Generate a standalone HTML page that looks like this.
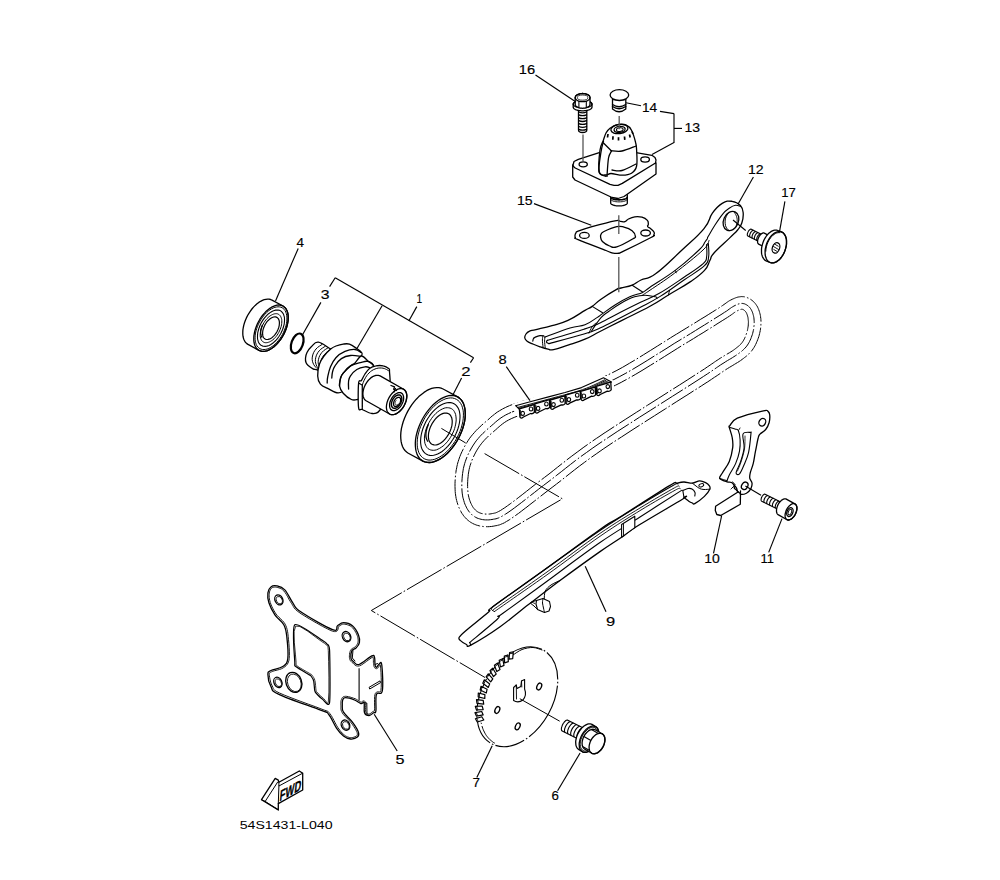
<!DOCTYPE html>
<html><head><meta charset="utf-8"><title>Camshaft &amp; chain</title>
<style>
html,body{margin:0;padding:0;background:#fff;}
svg{display:block;}
text{font-family:"Liberation Sans",sans-serif;fill:#000;}
</style></head><body>
<svg width="1000" height="880" viewBox="0 0 1000 880">
<rect width="1000" height="880" fill="#fff"/>
<polygon points="509.2,405.8 506,407.2 505.7,407.4 502.8,408.8 502.5,409 499.9,410.5 499.6,410.7 497.3,412.1 497,412.3 495,413.8 494.8,414 492.9,415.5 492.7,415.6 490.9,417.1 490.8,417.2 489.1,418.8 489.1,418.8 487.4,420.3 485.6,421.8 483.7,423.4 483.6,423.5 481.8,425.1 481.7,425.2 480,426.8 479.9,426.9 478.2,428.5 478,428.6 476.4,430.3 476.3,430.4 474.7,432.1 474.6,432.3 473.1,434 472.9,434.2 471.4,436 471.3,436.1 469.9,438 469.7,438.2 468.4,440.1 468.3,440.3 467,442.3 466.9,442.5 465.7,444.5 465.6,444.7 464.4,446.8 464.3,447 463.2,449.2 463.1,449.4 462,451.6 461.9,451.8 460.9,454 460.8,454.2 459.9,456.5 459.8,456.7 459,459 458.9,459.3 458.2,461.6 458.1,461.8 457.4,464.2 457.4,464.5 456.8,466.9 456.8,467.2 456.3,469.7 456.2,469.9 455.9,472.5 455.8,472.7 455.5,475.4 455.5,475.6 455.3,478.2 455.3,478.4 455.1,481 455.1,481.2 455,483.7 455,483.9 455,486.4 455,486.6 455.1,489 455.1,489.2 455.2,491.4 455.2,491.6 455.4,493.7 455.5,494 455.7,496 455.8,496.3 456.1,498.3 456.2,498.6 456.6,500.4 456.7,500.7 457.2,502.5 457.3,502.8 457.8,504.5 457.9,504.8 458.5,506.4 458.6,506.7 459.3,508.3 459.4,508.5 460.1,510 460.3,510.3 461,511.7 461.1,512 461.9,513.3 462.1,513.6 463,514.8 463.2,515.2 464.1,516.3 464.3,516.6 465.3,517.7 465.6,518 466.5,519 466.9,519.3 467.9,520.2 468.2,520.5 469.3,521.4 469.7,521.6 470.8,522.4 471.2,522.6 472.4,523.3 472.8,523.5 474,524.1 474.5,524.3 475.8,524.8 476.2,525 477.6,525.4 478,525.5 479.5,525.9 479.9,526 481.3,526.3 481.7,526.3 483.3,526.5 483.6,526.6 485.2,526.7 485.6,526.7 487.1,526.7 487.5,526.7 489.1,526.7 489.5,526.6 491,526.5 491.4,526.5 493,526.2 493.2,526.2 494.6,526 494.6,525.9 495.9,525.7 496.1,525.7 497.4,525.4 497.7,525.3 498.9,525 499.4,524.9 500.7,524.4 501.1,524.2 502.5,523.6 502.9,523.5 504.5,522.7 504.8,522.5 506.6,521.4 506.8,521.3 509,520 509.2,519.9 511.7,518.2 511.9,518.1 514.8,516 515,515.9 518.3,513.5 518.4,513.5 521.9,510.8 522,510.7 525.8,507.8 525.9,507.8 529.9,504.6 529.9,504.6 534.2,501.3 538.5,497.9 543,494.4 547.5,490.9 552.1,487.4 552.1,487.4 556.6,484 556.7,483.9 561.1,480.5 561.1,480.5 565.5,477 569.9,473.5 574.5,469.9 579.4,466.1 584.7,462.2 590.4,458 596.8,453.5 603.8,448.6 612,443.1 621.6,436.9 632,430.1 643.1,423 654.4,415.8 665.6,408.7 676.2,401.9 686,395.7 686.1,395.7 694.6,390.2 694.7,390.2 701.7,385.7 701.7,385.7 707.1,382.2 707.2,382.2 711.4,379.4 711.4,379.4 714.6,377.2 714.7,377.2 717.1,375.6 717.2,375.5 719,374.3 719,374.3 720.4,373.3 720.4,373.3 721.6,372.5 722.7,371.7 724,370.8 725.7,369.7 727.6,368.5 729.4,367.4 731.1,366.4 732.8,365.4 734.4,364.4 734.4,364.4 735.9,363.5 736,363.4 737.5,362.5 737.6,362.5 739,361.6 739.1,361.5 740.5,360.6 740.7,360.5 742,359.5 742.1,359.4 743.3,358.5 743.4,358.5 744.5,357.6 744.6,357.5 745.7,356.7 745.8,356.6 746.8,355.8 747,355.6 747.9,354.8 748.1,354.6 749,353.8 749.2,353.6 750,352.7 750.3,352.5 751.1,351.5 751.3,351.3 752.1,350.3 752.3,350 753,349 753.2,348.7 754,347.5 754.1,347.3 754.8,346.1 755,345.8 755.6,344.5 755.7,344.3 756.4,343 756.4,342.8 757,341.4 757.1,341.2 757.6,339.9 757.7,339.7 758.2,338.3 758.3,338.1 758.7,336.8 758.8,336.6 759.2,335.2 759.2,335.1 759.6,333.7 759.6,333.5 759.9,332.2 760,332 760.2,330.7 760.3,330.4 760.5,329.1 760.5,328.9 760.7,327.5 760.7,327.3 760.8,326 760.9,325.7 760.9,324.4 760.9,324.2 761,322.9 761,322.6 761,321.4 761,321.1 760.9,319.9 760.9,319.6 760.8,318.4 760.7,318.1 760.6,317 760.6,316.7 760.4,315.5 760.3,315.2 760.1,314.1 760,313.8 759.7,312.7 759.6,312.4 759.3,311.3 759.2,311 758.8,309.9 758.7,309.6 758.3,308.6 758.1,308.2 757.7,307.3 757.5,306.9 757,306 756.7,305.6 756.2,304.8 755.9,304.4 755.3,303.6 755,303.2 754.4,302.5 754,302.1 753.3,301.5 753,301.2 752.2,300.5 751.9,300.2 751.1,299.7 750.7,299.4 749.9,298.9 749.4,298.7 748.6,298.2 748.1,298 747.3,297.7 746.7,297.4 745.9,297.2 745.2,297 744.4,296.8 743.6,296.7 742.8,296.7 742.1,296.6 741.3,296.6 740.6,296.7 739.8,296.8 739.2,296.9 738.3,297 737.8,297.1 737,297.4 736.6,297.5 735.7,297.8 735.4,297.9 734.5,298.3 734.2,298.4 733.3,298.8 733.1,298.9 732.1,299.3 732,299.4 731,299.9 730.8,300 729.9,300.5 729.6,300.6 728.8,301.1 728.5,301.3 727.8,301.8 727.6,301.9 726.9,302.4 726.8,302.5 726,303.1 725.1,303.7 724,304.5 722.6,305.5 720.7,306.7 718.4,308.3 715.5,310.1 712.3,312.1 708.8,314.3 705,316.7 700.8,319.2 696.5,321.9 691.8,324.8 686.9,327.8 681.8,330.9 676.5,334.2 676.4,334.2 670.7,337.7 670.6,337.8 664.4,341.7 664.4,341.7 657.7,345.9 650.7,350.3 643.6,354.7 636.5,359.1 629.4,363.3 622.6,367.3 616.1,370.8 610,373.9 604.4,376.5 598.9,378.7 593.6,380.7 588.4,382.5 583.3,384.1 578.3,385.6 573.2,387 568.2,388.5 568.2,388.5 563.1,389.9 563,390 558,391.5 553,393 547.8,394.5 542.7,395.9 537.5,397.3 532.3,398.6 532.3,398.6 527.3,400 527.3,400 522.5,401.3 522.4,401.3 517.9,402.7 517.7,402.7 513.6,404.1 513.3,404.2 509.6,405.6 509.2,405.8" fill="none" stroke="#000" stroke-width="1" stroke-dasharray="26 2.2 1.6 2.2"/>
<polygon points="512,412 515.7,410.6 519.9,409.2 524.3,407.9 529.1,406.5 534.1,405.2 539.2,403.8 544.4,402.5 549.7,401 554.9,399.6 560,398 565,396.5 570.1,395 575.1,393.6 580.2,392.1 585.3,390.6 590.6,389 595.9,387.1 601.4,385.1 607.1,382.7 613,380 619.2,376.8 625.9,373.2 632.9,369.2 640,364.9 647.2,360.5 654.3,356 661.3,351.7 668,347.5 674.2,343.5 680,340 685.3,336.8 690.5,333.6 695.4,330.6 700,327.7 704.4,325 708.6,322.4 712.4,320 715.9,317.8 719.1,315.8 722,314 724.4,312.4 726.4,311.2 727.9,310.1 729.1,309.2 730.1,308.5 730.9,307.9 731.6,307.4 732.3,307 733.1,306.5 734,306 735,305.5 736,305 737,304.6 737.9,304.2 738.8,303.9 739.7,303.7 740.5,303.5 741.3,303.4 742.2,303.4 743,303.5 743.8,303.7 744.7,303.9 745.5,304.3 746.3,304.7 747.1,305.2 747.9,305.7 748.6,306.4 749.3,307 749.9,307.7 750.5,308.5 751,309.3 751.5,310.2 752,311.2 752.4,312.2 752.8,313.2 753.1,314.4 753.4,315.5 753.7,316.7 753.9,317.8 754,319 754.1,320.2 754.2,321.4 754.2,322.7 754.1,324 754.1,325.3 753.9,326.7 753.8,328 753.6,329.4 753.3,330.7 753,332 752.7,333.3 752.3,334.7 751.8,336 751.3,337.4 750.8,338.8 750.2,340.1 749.6,341.4 748.9,342.7 748.2,343.9 747.5,345 746.7,346.1 746,347 745.1,348 744.3,348.8 743.4,349.7 742.5,350.5 741.5,351.4 740.4,352.2 739.2,353.1 738,354 736.7,354.9 735.3,355.8 733.9,356.7 732.5,357.6 730.9,358.6 729.3,359.5 727.6,360.5 725.8,361.6 724,362.8 722,364 720.3,365.1 718.9,366.1 717.7,366.9 716.5,367.7 715.1,368.7 713.3,369.9 710.9,371.6 707.7,373.7 703.4,376.5 698,380 691,384.5 682.4,390 672.6,396.2 661.9,403 650.8,410.1 639.4,417.3 628.4,424.4 617.8,431.2 608.3,437.5 600,443 592.9,447.9 586.5,452.5 580.6,456.7 575.3,460.7 570.4,464.5 565.7,468.2 561.3,471.7 556.9,475.1 552.5,478.6 548,482 543.4,485.5 538.8,489 534.4,492.5 530,495.9 525.8,499.2 521.7,502.4 517.9,505.3 514.3,508 511,510.4 508,512.5 505.4,514.2 503.2,515.5 501.4,516.6 499.8,517.4 498.4,518 497.2,518.4 496,518.8 494.8,519 493.5,519.2 492,519.5 490.4,519.7 488.9,519.9 487.3,519.9 485.7,519.9 484.1,519.8 482.6,519.6 481.1,519.3 479.7,518.9 478.3,518.5 477,518 475.8,517.4 474.6,516.7 473.5,516 472.4,515.2 471.4,514.2 470.4,513.3 469.5,512.2 468.6,511 467.8,509.8 467,508.5 466.3,507.1 465.6,505.6 464.9,504.1 464.3,502.4 463.8,500.7 463.3,498.9 462.8,497.1 462.5,495.1 462.2,493.1 462,491 461.9,488.8 461.8,486.4 461.8,484 461.9,481.4 462.1,478.8 462.3,476.1 462.6,473.5 463,470.9 463.4,468.4 464,466 464.6,463.7 465.4,461.3 466.2,459 467.1,456.7 468.1,454.5 469.2,452.3 470.3,450.1 471.5,448 472.7,446 474,444 475.3,442.1 476.7,440.2 478.2,438.5 479.7,436.7 481.2,435.1 482.9,433.4 484.6,431.8 486.3,430.2 488.1,428.6 490,427 491.8,425.4 493.6,423.9 495.3,422.3 497.1,420.8 499,419.3 501,417.8 503.3,416.4 505.8,414.9 508.7,413.5 512,412" fill="none" stroke="#000" stroke-width="1" stroke-dasharray="26 2.2 1.6 2.2"/>
<polygon points="514.2,417.4 511.2,418.7 508.6,420 506.3,421.3 504.3,422.6 502.5,423.9 500.8,425.3 499.1,426.7 497.4,428.2 495.7,429.8 495.6,429.8 493.8,431.4 493.8,431.4 491.9,433 490.2,434.5 488.5,436 486.9,437.6 485.4,439.1 484,440.6 482.6,442.2 481.3,443.8 480,445.5 478.8,447.2 477.6,449.1 476.5,450.9 475.4,452.9 474.4,454.9 473.4,456.9 472.5,459 471.6,461.1 470.9,463.2 470.2,465.3 469.6,467.4 469.1,469.6 468.7,471.9 468.3,474.3 468.1,476.7 467.8,479.2 467.7,481.7 467.6,484.1 467.6,486.4 467.7,488.6 467.8,490.6 468,492.4 468.2,494.2 468.5,495.9 468.9,497.5 469.3,499.1 469.8,500.5 470.3,501.9 470.9,503.3 471.5,504.5 472.1,505.7 472.7,506.7 473.3,507.7 474,508.5 474.7,509.3 475.4,510 476.1,510.7 476.9,511.3 477.6,511.8 478.5,512.3 479.3,512.7 480.2,513 481.2,513.4 482.3,513.6 483.5,513.9 484.7,514 486,514.1 487.2,514.1 488.5,514.1 489.8,514 491.1,513.8 492.5,513.5 493.7,513.3 494.6,513.1 495.5,512.9 496.3,512.6 497.4,512.1 498.6,511.5 500.3,510.6 502.3,509.3 504.8,507.7 507.6,505.7 510.8,503.4 514.4,500.7 518.2,497.8 522.2,494.7 526.4,491.4 530.8,487.9 530.8,487.9 535.3,484.4 535.3,484.4 539.9,480.9 539.9,480.9 544.5,477.4 549,474 553.3,470.6 557.7,467.1 562.1,463.6 562.2,463.6 566.8,460 566.8,459.9 571.8,456.1 571.8,456.1 577.2,452.1 577.2,452.1 583,447.8 583.1,447.7 589.5,443.2 589.6,443.1 596.7,438.2 596.8,438.2 605,432.6 605.1,432.6 614.7,426.3 614.7,426.3 625.2,419.5 625.2,419.5 636.3,412.4 636.3,412.4 647.6,405.2 647.6,405.2 658.8,398.1 669.5,391.3 679.3,385.1 687.9,379.6 694.9,375.1 700.3,371.6 704.5,368.9 707.7,366.7 710.1,365.1 711.8,363.9 713.2,363 714.4,362.1 714.4,362.1 715.6,361.3 715.7,361.3 717,360.3 717.1,360.3 718.8,359.2 718.9,359.1 720.8,357.9 720.9,357.8 722.8,356.7 722.8,356.6 724.6,355.6 724.6,355.5 726.3,354.5 726.3,354.5 727.9,353.6 729.5,352.7 730.9,351.8 732.2,351 733.4,350.2 734.6,349.3 735.7,348.5 736.8,347.6 737.8,346.8 738.7,346.1 739.5,345.4 740.2,344.7 740.9,344 741.5,343.3 742.1,342.6 742.7,341.7 743.3,340.8 743.8,339.9 744.4,338.8 744.9,337.7 745.4,336.5 745.9,335.3 746.3,334.1 746.7,332.9 747.1,331.8 747.4,330.6 747.6,329.5 747.8,328.4 748,327.2 748.2,326.1 748.3,324.9 748.3,323.8 748.4,322.7 748.4,321.6 748.3,320.6 748.2,319.6 748.1,318.7 748,317.7 747.8,316.8 747.5,315.9 747.3,315.1 747,314.3 746.7,313.5 746.4,312.9 746.1,312.3 745.8,311.9 745.4,311.4 745.1,311 744.7,310.7 744.3,310.3 743.9,310 743.4,309.7 743,309.5 742.7,309.4 742.4,309.3 742.1,309.2 741.9,309.2 741.7,309.2 741.4,309.3 741,309.3 740.5,309.5 739.9,309.7 739.2,310 738.4,310.3 737.5,310.7 736.6,311.2 735.9,311.6 735.4,311.9 734.9,312.2 734.3,312.6 733.5,313.2 733.5,313.2 732.6,313.9 732.5,314 731.3,314.8 731.2,314.9 729.7,315.9 729.6,316 727.6,317.3 727.6,317.3 725.1,318.9 725.1,318.9 722.2,320.7 719,322.7 719,322.7 715.5,324.9 715.5,325 711.6,327.3 711.6,327.4 707.5,329.9 707.5,329.9 703.1,332.7 703.1,332.7 698.4,335.5 698.4,335.5 693.5,338.6 693.5,338.6 688.4,341.7 688.4,341.7 683,344.9 677.3,348.5 671.1,352.4 664.4,356.6 657.4,361 657.4,361 650.3,365.4 650.2,365.4 643,369.9 643,369.9 635.8,374.2 635.8,374.2 628.8,378.2 628.7,378.3 622,381.9 621.9,382 615.6,385.2 615.4,385.3 609.5,388 609.3,388.1 603.6,390.4 603.5,390.5 598,392.6 597.8,392.6 592.4,394.5 592.3,394.5 587.1,396.2 587,396.2 581.8,397.7 581.8,397.7 576.7,399.2 576.7,399.2 571.6,400.6 566.7,402 561.7,403.5 561.7,403.5 556.6,405.1 556.5,405.1 551.2,406.6 551.2,406.6 545.9,408.1 545.9,408.1 540.7,409.4 540.7,409.4 535.5,410.8 530.6,412.1 526,413.4 521.6,414.7 517.7,416 514.2,417.4" fill="none" stroke="#000" stroke-width="1" stroke-dasharray="26 2.2 1.6 2.2"/>
<polyline points="484.6,453.6 562.4,498.8 371.3,610.5 485,677.5" fill="none" stroke="#000" stroke-width="1" stroke-dasharray="40 2.2 1.6 2.2"/>
<path d="M529.6,331.2 C531.9,330.2 530.8,330.9 536,329.6 C541.2,328.3 544.5,327.7 552,325.6 C559.5,323.5 560.3,323.9 568,320.4 C575.7,316.9 579.4,313.7 585,310.4 C590.6,307.1 588.5,309 592.2,306.4 C595.9,303.8 595.4,303.1 601,299.2 C606.6,295.3 611.5,292.2 616.2,289.6 C620.9,287 617.3,289 621,288 C624.7,287 627.5,287.1 632.2,285.2 C636.9,283.3 635.5,282.7 641,280 C646.5,277.3 646,280.8 655.6,273.8 C665.2,266.8 670.7,260.5 682,250 C693.3,239.5 696.9,237.2 704,228.6 C711.1,220 708.2,219.1 712.4,213.2 C716.6,207.3 717.6,206.2 722.2,203.4 C726.8,200.6 727.8,200.8 732,201.3 C736.2,201.8 737.8,202.7 740.4,205.5 C743,208.3 742.9,209.1 743.2,213.2 C743.5,217.3 743.1,219.1 741.8,223 C740.5,226.9 740.4,226.6 737.6,230 C734.8,233.4 735.5,232.2 730,237.6 C724.5,243 718.7,247.7 714,253 C709.3,258.3 712.2,256.1 710,260.2 C707.8,264.3 709,265.5 704.5,270.4 C700,275.3 699.3,275.7 690.9,281.4 C682.5,287.1 677.9,289.2 668.4,295 C658.9,300.8 660.8,300.4 650,306.3 C639.2,312.2 633.7,314.4 622,320.3 C610.3,326.2 608.6,327.1 600,331.5 C591.4,335.9 592.5,336 585,339.2 C577.5,342.4 575.3,342.8 568,345.2 C560.7,347.6 558.3,348.7 553.6,349.6 C548.9,350.5 551.2,349.9 548,349.2 C544.8,348.5 543.7,348.1 540,346.8 C536.3,345.5 535,344.9 532,343.6 C529,342.3 528.9,342.5 527.2,341.2 C525.5,339.9 525.1,339.7 524.8,338 C524.5,336.3 524.9,335.6 526,334 C527.1,332.4 527.3,332.2 529.6,331.2Z" fill="#fff" stroke="#000" stroke-width="1.3" stroke-linejoin="round"/>
<path d="M532.8,341.2 C532.9,340.7 533,339.3 533.5,338.5 C534,337.7 533.9,337.8 535.2,337.2 C536.5,336.6 538.2,335.8 540,335.6 C541.8,335.4 543.2,335.9 544,336" fill="none" stroke="#000" stroke-width="1.2" stroke-linejoin="round" stroke-linecap="round"/>
<path d="M543,335.8 C542.9,336.6 542.4,337.8 542.4,340 C542.4,342.2 542.9,345.4 543,346.8" fill="none" stroke="#000" stroke-width="1.0" stroke-linejoin="round" stroke-linecap="round"/>
<path d="M545,336.5 C544.9,337.4 544.6,338.8 544.6,341 C544.6,343.2 545.1,346.2 545.2,347.5" fill="none" stroke="#000" stroke-width="1.0" stroke-linejoin="round" stroke-linecap="round"/>
<path d="M544.8,337.2 C549.8,335.4 562,330.5 570,328 C578,325.5 579.6,326.9 585,324.8 C590.4,322.7 593.5,319.8 597,317.6 C600.5,315.4 598.9,316.2 602.6,313.6 C606.3,311 610,308.2 615.4,304.8 C620.8,301.4 624.4,299.3 629.8,296.8 C635.2,294.3 638.6,294.3 642.6,292.4 C646.6,290.5 643.5,291.6 650,287.2 C656.5,282.8 665.4,277.8 675.2,270.4 C685,263 693,255.7 699,250 C705,244.3 703.3,244.3 705,242 C706.7,239.7 707,239.2 707.5,238.5" fill="none" stroke="#000" stroke-width="1.1" stroke-linejoin="round" stroke-linecap="round"/>
<path d="M642.6,295 C644.1,294 643.6,294.6 650,290.2 C656.4,285.8 663.9,281.2 674.5,273.2 C685.1,265.2 696.1,256.5 703,250 C709.9,243.5 707.8,242.4 709,240.5" fill="none" stroke="#000" stroke-width="1.0" stroke-linejoin="round" stroke-linecap="round"/>
<path d="M547.2,340.4 C554.6,338.2 573.4,332.7 584,329.2 C594.6,325.7 592.8,326.3 600,323 C607.2,319.7 612,316.6 620,312.5 C628,308.4 632.2,306.3 640,302.5 C647.8,298.7 650.1,298.6 658.9,293.6 C667.7,288.6 675.1,283.3 684,277.3 C692.9,271.3 698.7,267.7 703.2,263.6 C707.7,259.5 705.9,260.6 706.6,256.8 C707.3,253 706.6,247.2 706.6,244.8" fill="none" stroke="#000" stroke-width="1.1" stroke-linejoin="round" stroke-linecap="round"/>
<path d="M548.8,343.6 C555.8,341.7 573.8,337.1 584,334 C594.2,330.9 592.8,331.2 600,328 C607.2,324.8 612,322.1 620,318 C628,313.9 632,311.8 640,307.5 C648,303.2 651.4,301.9 660.2,296.4 C669,290.9 675.1,286.1 684,280 C692.9,273.9 699.6,270.3 704.5,265.7 C709.4,261.1 707.8,261.1 708.6,256.8 C709.4,252.5 708.4,246.6 708.4,244" fill="none" stroke="#000" stroke-width="1.1" stroke-linejoin="round" stroke-linecap="round"/>
<path d="M547.2,340.4 C547.1,340.8 546.2,341.6 546.5,342.2 C546.8,342.8 548.3,343.3 548.8,343.6" fill="none" stroke="#000" stroke-width="1.1" stroke-linejoin="round" stroke-linecap="round"/>
<path d="M706.6,244.8 C706.8,244.5 707.1,243.7 707.5,243.5 C707.9,243.3 708.2,243.9 708.4,244" fill="none" stroke="#000" stroke-width="1.0" stroke-linejoin="round" stroke-linecap="round"/>
<path d="M591.4,331.2 C593.3,328.5 597.5,321.6 601,317.6 C604.5,313.6 605,314.1 609,311.2 C613,308.3 615.9,306.1 621,303.2 C626.1,300.3 629.8,298.4 634.6,296.8 C639.4,295.2 640.8,295.2 645,295.2 C649.2,295.2 653,296.2 655.4,296.8 C657.8,297.4 656.7,298.1 657,298.4" fill="none" stroke="#000" stroke-width="1.1" stroke-linejoin="round" stroke-linecap="round"/>
<path d="M589,333.2 C589.6,332 590.6,329 592,327 C593.4,325 595.2,323.8 596,323" fill="none" stroke="#000" stroke-width="1.0" stroke-linejoin="round" stroke-linecap="round"/>
<path d="M592.2,306.4 C592.2,306.4 602.6,312.8 602.6,312.8" fill="none" stroke="#000" stroke-width="1.1" stroke-linejoin="round" stroke-linecap="round"/>
<path d="M632.2,285.2 C632.2,285.2 642.6,292 642.6,292" fill="none" stroke="#000" stroke-width="1.1" stroke-linejoin="round" stroke-linecap="round"/>
<path d="M675.2,270.4 C675.2,270.4 676.2,272.8 676.2,272.8" fill="none" stroke="#000" stroke-width="1.0" stroke-linejoin="round" stroke-linecap="round"/>
<path d="M668.4,295 C668.4,295 669.5,290.5 669.5,290.5" fill="none" stroke="#000" stroke-width="1.0" stroke-linejoin="round" stroke-linecap="round"/>
<ellipse cx="731" cy="221" rx="7.4" ry="10" transform="rotate(24 731 221)" fill="#fff" stroke="#000" stroke-width="1.3" />
<path d="M727.5,214 C727,215.2 725.5,217.4 725.2,220 C724.9,222.6 725.2,224.9 726,227 C726.8,229.1 728.4,229.8 729,230.5" fill="none" stroke="#000" stroke-width="1.0" stroke-linejoin="round" stroke-linecap="round"/>
<path d="M734.5,212.5 C735,213.6 736.6,215.5 737,218 C737.4,220.5 737.1,222.8 736.5,225 C735.9,227.2 734.5,228.2 734,229" fill="none" stroke="#000" stroke-width="0.9" stroke-linejoin="round" stroke-linecap="round"/>
<path d="M707.5,237.6 C709,235.1 711.9,229.8 715,225 C718.1,220.2 720.1,217.2 722.9,213.8 C725.7,210.4 726.7,209.9 729.2,208.2 C731.7,206.5 733.2,205.6 735.5,205.3 C737.8,205 739.5,206.3 740.5,206.5" fill="none" stroke="#000" stroke-width="1.1" stroke-linejoin="round" stroke-linecap="round"/>
<line x1="733" y1="220" x2="745.7" y2="230.5" stroke="#000" stroke-width="1.1" />
<polygon points="764.2,235.8 764.4,235.9 764.5,236 764.6,236.2 764.7,236.4 764.8,236.7 764.8,236.9 764.8,237.2 764.8,237.5 764.7,237.8 764.7,238.2 764.6,238.5 764.5,238.9 764.3,239.3 764.2,239.6 764,240 763.8,240.3 763.6,240.7 763.4,241 763.2,241.3 763,241.6 762.7,241.8 762.5,242 762.2,242.2 762,242.4 761.8,242.5 761.5,242.6 761.3,242.7 761.1,242.7 760.9,242.6 760.8,242.6 747.9,236 747.7,235.9 747.6,235.8 747.5,235.6 747.4,235.4 747.3,235.1 747.3,234.9 747.3,234.6 747.3,234.3 747.4,234 747.4,233.6 747.5,233.3 747.6,232.9 747.8,232.5 747.9,232.2 748.1,231.8 748.3,231.5 748.5,231.1 748.7,230.8 748.9,230.5 749.1,230.2 749.4,230 749.6,229.8 749.9,229.6 750.1,229.4 750.3,229.3 750.6,229.2 750.8,229.1 751,229.1 751.2,229.2 751.3,229.2" fill="#fff" stroke="#000" stroke-width="1.1" stroke-linejoin="round" />
<polyline points="750,237 749.8,236.7 749.7,236.2 749.6,235.7 749.7,235.1 749.9,234.4 750.1,233.7 750.4,233 750.8,232.4 751.2,231.8 751.7,231.3 752.1,230.8 752.6,230.5 753,230.4 753.4,230.3" fill="none" stroke="#000" stroke-width="1.1" stroke-linejoin="round" />
<polyline points="752.3,238.2 752.1,237.9 752,237.4 752,236.9 752.1,236.3 752.2,235.6 752.5,234.9 752.8,234.2 753.1,233.6 753.6,233 754,232.5 754.5,232 754.9,231.7 755.3,231.6 755.7,231.5" fill="none" stroke="#000" stroke-width="1.1" stroke-linejoin="round" />
<polyline points="754.7,239.4 754.5,239.1 754.4,238.6 754.3,238.1 754.4,237.5 754.6,236.8 754.8,236.1 755.1,235.4 755.5,234.8 755.9,234.2 756.3,233.7 756.8,233.2 757.3,232.9 757.7,232.8 758.1,232.7" fill="none" stroke="#000" stroke-width="1.1" stroke-linejoin="round" />
<polyline points="757,240.6 756.8,240.3 756.7,239.8 756.7,239.3 756.8,238.7 756.9,238 757.1,237.3 757.5,236.6 757.8,236 758.2,235.4 758.7,234.9 759.2,234.4 759.6,234.1 760,234 760.4,233.9" fill="none" stroke="#000" stroke-width="1.1" stroke-linejoin="round" />
<polyline points="759.4,241.8 759.2,241.5 759.1,241 759,240.5 759.1,239.9 759.3,239.2 759.5,238.5 759.8,237.8 760.2,237.2 760.6,236.6 761,236.1 761.5,235.6 761.9,235.3 762.4,235.2 762.8,235.1" fill="none" stroke="#000" stroke-width="1.1" stroke-linejoin="round" />
<polygon points="769.8,236 770.1,236.2 770.3,236.4 770.5,236.7 770.7,237 770.8,237.4 770.9,237.9 770.9,238.3 770.9,238.8 770.9,239.4 770.8,240 770.7,240.5 770.5,241.1 770.3,241.7 770,242.3 769.8,242.9 769.5,243.5 769.1,244 768.8,244.5 768.4,245 768,245.5 767.6,245.9 767.2,246.2 766.8,246.5 766.3,246.8 765.9,247 765.6,247.1 765.2,247.2 764.8,247.2 764.5,247.1 764.2,247 758.7,244.1 758.4,243.9 758.2,243.7 758,243.4 757.8,243.1 757.7,242.7 757.6,242.2 757.6,241.8 757.6,241.3 757.6,240.7 757.7,240.1 757.8,239.6 758,239 758.2,238.4 758.5,237.8 758.7,237.2 759,236.6 759.4,236.1 759.7,235.6 760.1,235.1 760.5,234.6 760.9,234.2 761.3,233.9 761.7,233.6 762.2,233.3 762.6,233.1 762.9,233 763.3,232.9 763.7,232.9 764,233 764.3,233.1" fill="#fff" stroke="#000" stroke-width="1.3" stroke-linejoin="round" />
<polygon points="781.4,231.9 782.3,232.3 783.2,232.9 783.9,233.7 784.6,234.6 785.2,235.6 785.7,236.8 786.1,238.1 786.4,239.4 786.5,240.9 786.5,242.4 786.5,244 786.3,245.6 785.9,247.3 785.5,248.9 785,250.5 784.4,252.1 783.6,253.7 782.8,255.1 781.9,256.5 781,257.8 780,258.9 778.9,259.9 777.8,260.8 776.7,261.6 775.6,262.1 774.4,262.6 773.3,262.8 772.3,262.9 771.2,262.8 770.2,262.5 766.6,261.1 765.7,260.7 764.8,260.1 764.1,259.3 763.4,258.4 762.8,257.4 762.3,256.2 761.9,254.9 761.6,253.6 761.5,252.1 761.5,250.6 761.5,249 761.7,247.4 762.1,245.7 762.5,244.1 763,242.5 763.6,240.9 764.4,239.3 765.2,237.9 766.1,236.5 767,235.2 768,234.1 769.1,233.1 770.2,232.2 771.3,231.4 772.4,230.9 773.6,230.4 774.7,230.2 775.7,230.1 776.8,230.2 777.8,230.5" fill="#fff" stroke="#000" stroke-width="1.3" stroke-linejoin="round" />
<polygon points="785,250.5 784.4,252.1 783.6,253.7 782.8,255.1 781.9,256.5 781,257.8 780,258.9 778.9,259.9 777.8,260.8 776.7,261.6 775.6,262.1 774.4,262.6 773.3,262.8 772.3,262.9 771.2,262.8 770.2,262.5 769.3,262.1 768.4,261.5 767.7,260.7 767,259.8 766.4,258.8 765.9,257.6 765.5,256.3 765.2,255 765.1,253.5 765.1,252 765.1,250.4 765.3,248.8 765.7,247.1 766.1,245.5 766.6,243.9 767.2,242.3 768,240.7 768.8,239.3 769.7,237.9 770.6,236.6 771.6,235.5 772.7,234.5 773.8,233.6 774.9,232.8 776,232.3 777.2,231.8 778.3,231.6 779.3,231.5 780.4,231.6 781.4,231.9 782.3,232.3 783.2,232.9 783.9,233.7 784.6,234.6 785.2,235.6 785.7,236.8 786.1,238.1 786.4,239.4 786.5,240.9 786.5,242.4 786.5,244 786.3,245.6 785.9,247.3 785.5,248.9 785,250.5" fill="none" stroke="#000" stroke-width="1.3" stroke-linejoin="round" />
<polyline points="765.8,251.6 765.9,249.9 766.1,248 766.6,246.2 767.1,244.4 767.8,242.6 768.6,240.9 769.6,239.3 770.6,237.8 771.7,236.5 772.9,235.3 774.1,234.4 775.4,233.6 776.6,233 777.9,232.7 779.1,232.6 780.2,232.7" fill="none" stroke="#000" stroke-width="1.0" stroke-linejoin="round" />
<ellipse cx="776" cy="247.9" rx="3.6" ry="5.4" transform="rotate(20 776 247.9)" fill="none" stroke="#000" stroke-width="1.3" />
<path d="M773.5,246.5 L778.5,249.5 M774.5,244 L778.2,246.2 M773.8,249.5 L777.2,251.5" fill="none" stroke="#000" stroke-width="0.9" stroke-linejoin="round" stroke-linecap="round" />
<path d="M575,235.2 C575.1,234.3 575.4,233.6 576,232.8 C576.6,232 574.9,232.4 578.1,231.2 C581.3,230 584.6,228.8 592,226.7 C599.4,224.6 609.3,221.9 615,220.8 C620.7,219.7 618.4,221.1 620.4,221.3 C622.4,221.5 623.3,222.2 624.9,221.7 C626.5,221.2 626.5,220 628.5,219 C630.5,218 632.1,217.2 634.8,216.8 C637.5,216.4 639.5,216.5 642,217.2 C644.5,217.9 646.1,219 647.4,220.4 C648.7,221.8 648.3,223.2 648.3,224.4 C648.3,225.6 647.1,225.6 647.6,226.5 C648.1,227.4 649.7,227.7 651,228.9 C652.3,230.1 653.7,231.2 654.2,232.5 C654.7,233.8 654.3,234.2 653.7,235.2 C653.1,236.2 657.1,234.3 651,237.5 C644.9,240.7 629.6,248.3 623.1,251.4 C616.6,254.5 620.6,252.8 618.6,253.2 C616.6,253.6 615.7,253.7 613.2,253.2 C610.7,252.7 613,253.2 606,250.5 C599,247.8 584.2,242.3 578.1,239.7 C572,237.1 576,238.4 575.4,237.5 C574.8,236.6 574.9,236.1 575,235.2Z" fill="#fff" stroke="#000" stroke-width="1.3"/>
<ellipse cx="584.4" cy="235.4" rx="4.8" ry="3" transform="rotate(0 584.4 235.4)" fill="none" stroke="#000" stroke-width="1.3" />
<ellipse cx="645.6" cy="233" rx="4.8" ry="3" transform="rotate(0 645.6 233)" fill="none" stroke="#000" stroke-width="1.3" />
<path d="M601,234.3 C601.7,233.2 600.8,233 604,231.5 C607.2,230 612.8,227.6 616.8,226.7 C620.8,225.8 620.9,226.3 624,227.1 C627.1,227.9 629.8,228.9 632.1,230.7 C634.4,232.5 635.1,234.5 635.3,236.1 C635.5,237.7 636.7,236.6 633,238.8 C629.3,241 621.5,245.5 616.8,246.9 C612.1,248.3 612.5,247.1 609.6,246 C606.7,244.9 604.2,243.3 602.4,241.5 C600.6,239.7 600.9,238.4 600.6,237 C600.3,235.6 600.3,235.4 601,234.3Z" fill="none" stroke="#000" stroke-width="1.3"/>
<line x1="618.8" y1="215.3" x2="618.8" y2="234" stroke="#555" stroke-width="1.3" />
<line x1="618.8" y1="257" x2="618.8" y2="292.3" stroke="#555" stroke-width="1.3" />
<polygon points="610.7,203 610.7,203.3 610.9,203.6 611.1,203.9 611.4,204.2 611.8,204.5 612.3,204.7 612.8,204.9 613.4,205.2 614.1,205.4 614.9,205.5 615.6,205.7 616.4,205.8 617.3,205.8 618.1,205.9 619,205.9 619.9,205.9 620.7,205.8 621.6,205.8 622.4,205.7 623.1,205.5 623.9,205.4 624.6,205.2 625.2,204.9 625.7,204.7 626.2,204.5 626.6,204.2 626.9,203.9 627.1,203.6 627.3,203.3 627.3,203 627.3,195 627.3,194.7 627.1,194.4 626.9,194.1 626.6,193.8 626.2,193.5 625.7,193.3 625.2,193.1 624.6,192.8 623.9,192.6 623.1,192.5 622.4,192.3 621.6,192.2 620.7,192.2 619.9,192.1 619,192.1 618.1,192.1 617.3,192.2 616.4,192.2 615.6,192.3 614.9,192.5 614.1,192.6 613.4,192.8 612.8,193.1 612.3,193.3 611.8,193.5 611.4,193.8 611.1,194.1 610.9,194.4 610.7,194.7 610.7,195" fill="#fff" stroke="#000" stroke-width="1.3" stroke-linejoin="round" />
<polyline points="610.7,197 610.9,197.6 611.3,198.1 612.1,198.6 613.1,199.1 614.4,199.4 615.8,199.7 617.4,199.8 619,199.9 620.6,199.8 622.2,199.7 623.6,199.4 624.9,199.1 625.9,198.6 626.7,198.1 627.1,197.6 627.3,197" fill="none" stroke="#000" stroke-width="1.6" stroke-linejoin="round" />
<polyline points="610.7,199 610.9,199.6 611.3,200.1 612.1,200.6 613.1,201.1 614.4,201.4 615.8,201.7 617.4,201.8 619,201.9 620.6,201.8 622.2,201.7 623.6,201.4 624.9,201.1 625.9,200.6 626.7,200.1 627.1,199.6 627.3,199" fill="none" stroke="#000" stroke-width="0.9" stroke-linejoin="round" />
<polygon points="572.7,165 572.7,177 575,180 612,197.5 618,198.5 624,196.5 656,174 656,163 655.5,163" fill="#fff" stroke="#000" stroke-width="1.3" stroke-linejoin="round" />
<polygon points="573,165 574,161.5 578.3,159.4 600.8,152.2 636,152.7 651.9,155.3 655,157.5 656,160 655.5,163 622.3,183.4 618,185.3 614,185.3 610,184.4 575.2,168 573.5,166.5" fill="#fff" stroke="#000" stroke-width="1.3" stroke-linejoin="round" />
<ellipse cx="583.2" cy="164.3" rx="4.1" ry="2.5" transform="rotate(0 583.2 164.3)" fill="none" stroke="#000" stroke-width="1.3" />
<ellipse cx="645.1" cy="159.5" rx="4.3" ry="2.6" transform="rotate(0 645.1 159.5)" fill="none" stroke="#000" stroke-width="1.3" />
<path d="M599.3,172 C598.3,167.8 599.3,155.3 600,150 C600.7,144.7 602.3,143.2 603.3,140.4 C604.3,137.6 604.9,135 606,133 C607.1,131 608,129.6 610,128.2 C612,126.8 615.5,125.1 618.2,124.6 C620.9,124.1 624.1,124.2 626.3,125.1 C628.5,126 630,127.3 631.5,130.2 C633,133.1 634.8,139.2 635.6,142.5 C636.5,145.8 636.4,146.1 636.6,150 C636.8,153.9 637.5,162.1 636.6,166 C635.8,169.9 633.9,171.7 631.5,173.2 C629.1,174.7 625.7,175.1 622.3,175.2 C618.9,175.2 613.7,173.5 611,173.5 C608.3,173.5 608,175.2 606,175 C604,174.8 600.3,176.2 599.3,172Z" fill="#fff" stroke="#000" stroke-width="1.3"/>
<path d="M611,150.7 C612.8,150.8 617.8,151.8 622,151 C626.2,150.2 633.7,146.8 636,146" fill="none" stroke="#000" stroke-width="1.3" stroke-linejoin="round" stroke-linecap="round" />
<path d="M612,170 C613.7,170.1 618,171.5 622,170.5 C626,169.5 633.7,165.1 636,164" fill="none" stroke="#000" stroke-width="1.3" stroke-linejoin="round" stroke-linecap="round" />
<path d="M603.5,141 C603.1,142.8 601.8,146.8 601,152 C600.2,157.2 598.2,167.9 599,172 C599.8,176.1 604.8,175.7 606,176.4" fill="none" stroke="#000" stroke-width="1.3" stroke-linejoin="round" stroke-linecap="round" />
<path d="M611.5,151 C611,152.2 609.2,153.8 608.5,158 C607.8,162.2 607.2,173.3 607,176.4" fill="none" stroke="#000" stroke-width="1.3" stroke-linejoin="round" stroke-linecap="round" />
<path d="M603.5,143 L611.5,151" fill="none" stroke="#000" stroke-width="1.3" stroke-linejoin="round" stroke-linecap="round" />
<ellipse cx="619.4" cy="129" rx="8.6" ry="4.6" transform="rotate(-8 619.4 129)" fill="none" stroke="#000" stroke-width="1.3" />
<ellipse cx="619.6" cy="129.4" rx="5.6" ry="3" transform="rotate(-8 619.6 129.4)" fill="none" stroke="#000" stroke-width="1.3" />
<ellipse cx="619.8" cy="129.6" rx="3.4" ry="1.8" transform="rotate(-8 619.8 129.6)" fill="none" stroke="#000" stroke-width="1.0" />
<line x1="608" y1="134" x2="607.5" y2="137.5" stroke="#000" stroke-width="1.7" />
<line x1="613" y1="136.3" x2="612.8" y2="139.8" stroke="#000" stroke-width="1.7" />
<line x1="618.5" y1="137.2" x2="618.5" y2="140.5" stroke="#000" stroke-width="1.7" />
<line x1="624.5" y1="136.5" x2="624.8" y2="139.8" stroke="#000" stroke-width="1.7" />
<line x1="629.5" y1="134.5" x2="630.2" y2="137.5" stroke="#000" stroke-width="1.7" />
<line x1="632" y1="131.5" x2="633" y2="134" stroke="#000" stroke-width="1.7" />
<line x1="619.2" y1="116.1" x2="619.2" y2="129.3" stroke="#555" stroke-width="1.3" />
<line x1="583" y1="134.5" x2="583" y2="161" stroke="#555" stroke-width="1.3" />
<path d="M578.5,108 L578.5,130 Q578.5,132.5 582.6,132.5 Q586.8,132.5 586.8,130 L586.8,108 Z" fill="#fff" stroke="#000" stroke-width="1.3"/>
<path d="M578.8,112 Q582.6,113.6 586.5,112" fill="none" stroke="#000" stroke-width="1.3" stroke-linejoin="round" stroke-linecap="round" />
<path d="M578.8,114.9 Q582.6,116.5 586.5,114.9" fill="none" stroke="#000" stroke-width="1.3" stroke-linejoin="round" stroke-linecap="round" />
<path d="M578.8,117.8 Q582.6,119.4 586.5,117.8" fill="none" stroke="#000" stroke-width="1.3" stroke-linejoin="round" stroke-linecap="round" />
<path d="M578.8,120.7 Q582.6,122.3 586.5,120.7" fill="none" stroke="#000" stroke-width="1.3" stroke-linejoin="round" stroke-linecap="round" />
<path d="M578.8,123.6 Q582.6,125.2 586.5,123.6" fill="none" stroke="#000" stroke-width="1.3" stroke-linejoin="round" stroke-linecap="round" />
<path d="M578.8,126.5 Q582.6,128.1 586.5,126.5" fill="none" stroke="#000" stroke-width="1.3" stroke-linejoin="round" stroke-linecap="round" />
<path d="M578.8,129.4 Q582.6,131 586.5,129.4" fill="none" stroke="#000" stroke-width="1.3" stroke-linejoin="round" stroke-linecap="round" />
<polygon points="573.2,104.2 573.3,103.8 573.4,103.5 573.7,103.1 574,102.7 574.5,102.4 575,102.1 575.6,101.8 576.3,101.5 577.1,101.3 577.9,101.1 578.8,100.9 579.7,100.8 580.6,100.7 581.6,100.6 582.6,100.6 583.6,100.6 584.6,100.7 585.5,100.8 586.4,100.9 587.3,101.1 588.1,101.3 588.9,101.5 589.6,101.8 590.2,102.1 590.7,102.4 591.2,102.7 591.5,103.1 591.8,103.5 591.9,103.8 592,104.2 592,107.2 591.9,107.6 591.8,107.9 591.5,108.3 591.2,108.7 590.7,109 590.2,109.3 589.6,109.6 588.9,109.9 588.1,110.1 587.3,110.3 586.4,110.5 585.5,110.6 584.6,110.7 583.6,110.8 582.6,110.8 581.6,110.8 580.6,110.7 579.7,110.6 578.8,110.5 577.9,110.3 577.1,110.1 576.3,109.9 575.6,109.6 575,109.3 574.5,109 574,108.7 573.7,108.3 573.4,107.9 573.3,107.6 573.2,107.2" fill="#fff" stroke="#000" stroke-width="1.3" stroke-linejoin="round" />
<polygon points="582.6,100.6 583.6,100.6 584.6,100.7 585.5,100.8 586.4,100.9 587.3,101.1 588.1,101.3 588.9,101.5 589.6,101.8 590.2,102.1 590.7,102.4 591.2,102.7 591.5,103.1 591.8,103.5 591.9,103.8 592,104.2 591.9,104.6 591.8,104.9 591.5,105.3 591.2,105.7 590.7,106 590.2,106.3 589.6,106.6 588.9,106.9 588.1,107.1 587.3,107.3 586.4,107.5 585.5,107.6 584.6,107.7 583.6,107.8 582.6,107.8 581.6,107.8 580.6,107.7 579.7,107.6 578.8,107.5 577.9,107.3 577.1,107.1 576.3,106.9 575.6,106.6 575,106.3 574.5,106 574,105.7 573.7,105.3 573.4,104.9 573.3,104.6 573.2,104.2 573.3,103.8 573.4,103.5 573.7,103.1 574,102.7 574.5,102.4 575,102.1 575.6,101.8 576.3,101.5 577.1,101.3 577.9,101.1 578.8,100.9 579.7,100.8 580.6,100.7 581.6,100.6 582.6,100.6" fill="none" stroke="#000" stroke-width="1.3" stroke-linejoin="round" />
<polygon points="575.2,97.6 575.2,97.2 575.4,96.8 575.6,96.3 575.8,95.9 576.2,95.6 576.6,95.2 577.1,94.9 577.6,94.6 578.3,94.3 578.9,94.1 579.6,93.9 580.3,93.7 581.1,93.6 581.8,93.6 582.6,93.5 583.4,93.6 584.1,93.6 584.9,93.7 585.6,93.9 586.3,94.1 586.9,94.3 587.6,94.6 588.1,94.9 588.6,95.2 589,95.6 589.4,95.9 589.6,96.3 589.8,96.8 590,97.2 590,97.6 590,104.2 590,104.6 589.8,105 589.6,105.5 589.4,105.9 589,106.2 588.6,106.6 588.1,106.9 587.6,107.2 586.9,107.5 586.3,107.7 585.6,107.9 584.9,108.1 584.1,108.2 583.4,108.2 582.6,108.3 581.8,108.2 581.1,108.2 580.3,108.1 579.6,107.9 578.9,107.7 578.3,107.5 577.6,107.2 577.1,106.9 576.6,106.6 576.2,106.2 575.8,105.9 575.6,105.5 575.4,105 575.2,104.6 575.2,104.2" fill="#fff" stroke="#000" stroke-width="1.3" stroke-linejoin="round" />
<polygon points="582.6,93.5 583.4,93.6 584.1,93.6 584.9,93.7 585.6,93.9 586.3,94.1 586.9,94.3 587.6,94.6 588.1,94.9 588.6,95.2 589,95.6 589.4,95.9 589.6,96.3 589.8,96.8 590,97.2 590,97.6 590,98 589.8,98.4 589.6,98.9 589.4,99.3 589,99.6 588.6,100 588.1,100.3 587.6,100.6 586.9,100.9 586.3,101.1 585.6,101.3 584.9,101.5 584.1,101.6 583.4,101.6 582.6,101.7 581.8,101.6 581.1,101.6 580.3,101.5 579.6,101.3 578.9,101.1 578.3,100.9 577.6,100.6 577.1,100.3 576.6,100 576.2,99.6 575.8,99.3 575.6,98.9 575.4,98.4 575.2,98 575.2,97.6 575.2,97.2 575.4,96.8 575.6,96.3 575.8,95.9 576.2,95.6 576.6,95.2 577.1,94.9 577.6,94.6 578.3,94.3 578.9,94.1 579.6,93.9 580.3,93.7 581.1,93.6 581.8,93.6 582.6,93.5" fill="none" stroke="#000" stroke-width="1.3" stroke-linejoin="round" />
<line x1="578.9" y1="101" x2="578.9" y2="107.4" stroke="#000" stroke-width="1.1" />
<line x1="586.3" y1="101" x2="586.3" y2="107.4" stroke="#000" stroke-width="1.1" />
<ellipse cx="582.6" cy="97.6" rx="5.2" ry="2.6" transform="rotate(0 582.6 97.6)" fill="none" stroke="#000" stroke-width="0.8" />
<path d="M612.5,99.5 L612.5,109 Q619,114.5 625.8,109 L625.8,99.5 Z" fill="#fff" stroke="#000" stroke-width="1.3"/>
<path d="M612.5,106.5 Q619,111 625.8,106.5" fill="none" stroke="#000" stroke-width="1.4" stroke-linejoin="round" stroke-linecap="round" />
<path d="M612.5,104.5 Q619,109 625.8,104.5" fill="none" stroke="#000" stroke-width="1.3" stroke-linejoin="round" stroke-linecap="round" />
<ellipse cx="619.4" cy="95.1" rx="9.3" ry="5.4" transform="rotate(0 619.4 95.1)" fill="#fff" stroke="#000" stroke-width="1.3" />
<polygon points="283,306 284.2,306.9 285.3,307.9 286.2,309.2 287,310.7 287.6,312.4 288,314.2 288.2,316.2 288.2,318.4 288.1,320.6 287.7,322.9 287.2,325.3 286.5,327.7 285.6,330.2 284.6,332.6 283.4,334.9 282.1,337.2 280.7,339.4 279.1,341.4 277.5,343.3 275.8,345.1 274,346.7 272.2,348 270.4,349.2 268.6,350.1 266.8,350.8 265.1,351.2 263.4,351.4 261.9,351.3 260.4,350.9 259,350.4 248,344.4 246.8,343.6 245.7,342.5 244.8,341.3 244,339.8 243.4,338.1 243,336.2 242.8,334.2 242.8,332.1 242.9,329.9 243.3,327.5 243.8,325.1 244.5,322.7 245.4,320.3 246.4,317.9 247.6,315.5 248.9,313.3 250.4,311.1 251.9,309 253.5,307.1 255.2,305.4 257,303.8 258.8,302.4 260.6,301.3 262.4,300.4 264.2,299.7 265.9,299.3 267.6,299.1 269.1,299.2 270.6,299.5 272,300.1" fill="#fff" stroke="#000" stroke-width="1.3" stroke-linejoin="round" />
<polygon points="283.4,334.9 282.1,337.2 280.7,339.4 279.1,341.4 277.5,343.3 275.8,345.1 274,346.7 272.2,348 270.4,349.2 268.6,350.1 266.8,350.8 265.1,351.2 263.4,351.4 261.9,351.3 260.4,350.9 259,350.4 257.8,349.5 256.7,348.5 255.8,347.2 255,345.7 254.4,344 254,342.2 253.8,340.2 253.8,338 253.9,335.8 254.3,333.5 254.8,331.1 255.5,328.7 256.4,326.2 257.4,323.8 258.6,321.5 259.9,319.2 261.3,317 262.9,315 264.5,313.1 266.2,311.3 268,309.7 269.8,308.4 271.6,307.2 273.4,306.3 275.2,305.6 276.9,305.2 278.6,305 280.1,305.1 281.6,305.5 283,306 284.2,306.9 285.3,307.9 286.2,309.2 287,310.7 287.6,312.4 288,314.2 288.2,316.2 288.2,318.4 288.1,320.6 287.7,322.9 287.2,325.3 286.5,327.7 285.6,330.2 284.6,332.6 283.4,334.9" fill="none" stroke="#000" stroke-width="1.3" stroke-linejoin="round" />
<polygon points="282.5,334.4 281.3,336.5 279.9,338.5 278.5,340.4 277,342.2 275.4,343.8 273.8,345.3 272.1,346.5 270.4,347.6 268.8,348.4 267.1,349.1 265.5,349.4 264,349.6 262.5,349.5 261.2,349.2 259.9,348.7 258.8,347.9 257.8,347 256.9,345.8 256.2,344.4 255.7,342.8 255.3,341.1 255.1,339.3 255.1,337.3 255.2,335.2 255.5,333.1 256,330.9 256.7,328.6 257.5,326.4 258.4,324.2 259.5,322 260.7,319.9 262.1,317.9 263.5,316 265,314.2 266.6,312.6 268.2,311.1 269.9,309.9 271.6,308.8 273.2,308 274.9,307.3 276.5,307 278,306.8 279.5,306.9 280.8,307.2 282.1,307.7 283.2,308.5 284.2,309.4 285.1,310.6 285.8,312 286.3,313.6 286.7,315.3 286.9,317.1 286.9,319.1 286.8,321.2 286.5,323.3 286,325.5 285.3,327.8 284.5,330 283.6,332.2 282.5,334.4" fill="none" stroke="#000" stroke-width="1.0" stroke-linejoin="round" />
<polygon points="280.8,333.5 279.7,335.3 278.6,337 277.4,338.6 276.1,340.1 274.7,341.5 273.4,342.7 271.9,343.8 270.5,344.7 269.1,345.4 267.7,345.9 266.4,346.3 265.1,346.4 263.8,346.3 262.7,346.1 261.6,345.6 260.6,345 259.8,344.1 259,343.1 258.4,342 258,340.6 257.6,339.2 257.5,337.6 257.5,335.9 257.6,334.2 257.8,332.3 258.3,330.5 258.8,328.6 259.5,326.7 260.3,324.8 261.2,322.9 262.3,321.1 263.4,319.4 264.6,317.8 265.9,316.3 267.3,314.9 268.6,313.7 270.1,312.6 271.5,311.7 272.9,311 274.3,310.5 275.6,310.1 276.9,310 278.2,310.1 279.3,310.3 280.4,310.8 281.4,311.4 282.2,312.3 283,313.3 283.6,314.4 284,315.8 284.4,317.2 284.5,318.8 284.5,320.5 284.4,322.2 284.2,324.1 283.7,325.9 283.2,327.8 282.5,329.7 281.7,331.6 280.8,333.5" fill="none" stroke="#000" stroke-width="1.1" stroke-linejoin="round" />
<polygon points="278.8,332.4 278,333.8 277.1,335.2 276.1,336.5 275.1,337.7 274,338.8 272.9,339.8 271.8,340.6 270.6,341.3 269.5,341.9 268.4,342.3 267.3,342.6 266.3,342.7 265.3,342.7 264.3,342.5 263.5,342.1 262.7,341.6 262,340.9 261.4,340.1 261,339.2 260.6,338.1 260.3,337 260.2,335.7 260.2,334.4 260.3,333 260.5,331.5 260.8,330 261.3,328.5 261.8,327 262.5,325.5 263.2,324 264,322.6 264.9,321.2 265.9,319.9 266.9,318.7 268,317.6 269.1,316.6 270.2,315.8 271.4,315.1 272.5,314.5 273.6,314.1 274.7,313.8 275.7,313.7 276.7,313.7 277.7,313.9 278.5,314.3 279.3,314.8 280,315.5 280.6,316.3 281,317.2 281.4,318.3 281.7,319.4 281.8,320.7 281.8,322 281.7,323.4 281.5,324.9 281.2,326.4 280.7,327.9 280.2,329.4 279.5,330.9 278.8,332.4" fill="none" stroke="#000" stroke-width="1.0" stroke-linejoin="round" />
<polygon points="277.1,331.5 276.4,332.6 275.7,333.7 275,334.7 274.2,335.6 273.3,336.4 272.5,337.2 271.6,337.9 270.7,338.4 269.8,338.9 269,339.2 268.1,339.4 267.3,339.5 266.5,339.5 265.8,339.3 265.1,339 264.5,338.6 264,338.1 263.6,337.5 263.2,336.8 262.9,335.9 262.7,335 262.6,334 262.6,333 262.7,331.9 262.8,330.8 263.1,329.6 263.4,328.4 263.9,327.2 264.4,326.1 264.9,324.9 265.6,323.8 266.3,322.7 267,321.7 267.8,320.8 268.7,320 269.5,319.2 270.4,318.5 271.3,318 272.2,317.5 273,317.2 273.9,317 274.7,316.9 275.5,316.9 276.2,317.1 276.9,317.4 277.5,317.8 278,318.3 278.4,318.9 278.8,319.6 279.1,320.5 279.3,321.4 279.4,322.4 279.4,323.4 279.3,324.5 279.2,325.6 278.9,326.8 278.6,328 278.1,329.2 277.6,330.3 277.1,331.5" fill="none" stroke="#000" stroke-width="1.2" stroke-linejoin="round" />
<polyline points="262.3,337.5 261.8,336.9 261.4,336.1 261.1,335.3 260.8,334.3 260.7,333.3 260.7,332.2 260.8,331.1 260.9,329.9 261.2,328.6 261.6,327.4 262,326.1 262.6,324.9" fill="none" stroke="#000" stroke-width="1.3" stroke-linejoin="round" />
<ellipse cx="297.2" cy="343.4" rx="5.7" ry="10.3" transform="rotate(20 297.2 343.4)" fill="none" stroke="#000" stroke-width="2.2" />
<polygon points="457.7,396.9 459.4,398.1 461,399.6 462.4,401.5 463.5,403.6 464.3,406.1 464.9,408.7 465.2,411.6 465.3,414.7 465.1,418 464.6,421.4 463.8,424.8 462.8,428.3 461.5,431.8 460,435.3 458.3,438.7 456.4,442 454.3,445.2 452,448.2 449.7,450.9 447.2,453.5 444.6,455.7 442,457.7 439.4,459.4 436.8,460.7 434.3,461.7 431.8,462.3 429.3,462.5 427.1,462.4 424.9,461.9 422.9,461.1 408.3,453.2 406.6,452 405,450.5 403.6,448.6 402.5,446.5 401.7,444 401.1,441.4 400.8,438.5 400.7,435.4 400.9,432.1 401.4,428.7 402.2,425.3 403.2,421.8 404.5,418.3 406,414.8 407.7,411.4 409.6,408.1 411.7,404.9 414,401.9 416.3,399.2 418.8,396.6 421.4,394.4 424,392.4 426.6,390.7 429.2,389.4 431.7,388.4 434.2,387.8 436.7,387.6 438.9,387.7 441.1,388.2 443.1,389" fill="#fff" stroke="#000" stroke-width="1.3" stroke-linejoin="round" />
<polygon points="458.3,438.7 456.4,442 454.3,445.2 452,448.2 449.7,450.9 447.2,453.5 444.6,455.7 442,457.7 439.4,459.4 436.8,460.7 434.3,461.7 431.8,462.3 429.3,462.5 427.1,462.4 424.9,461.9 422.9,461.1 421.2,459.9 419.6,458.4 418.2,456.5 417.1,454.4 416.3,451.9 415.7,449.3 415.4,446.4 415.3,443.3 415.5,440 416,436.6 416.8,433.2 417.8,429.7 419.1,426.2 420.6,422.7 422.3,419.3 424.2,416 426.3,412.8 428.6,409.8 430.9,407.1 433.4,404.5 436,402.3 438.6,400.3 441.2,398.6 443.8,397.3 446.3,396.3 448.8,395.7 451.3,395.5 453.5,395.6 455.7,396.1 457.7,396.9 459.4,398.1 461,399.6 462.4,401.5 463.5,403.6 464.3,406.1 464.9,408.7 465.2,411.6 465.3,414.7 465.1,418 464.6,421.4 463.8,424.8 462.8,428.3 461.5,431.8 460,435.3 458.3,438.7" fill="none" stroke="#000" stroke-width="1.3" stroke-linejoin="round" />
<polygon points="456.9,438 455.2,441.1 453.2,444 451.2,446.7 449,449.3 446.7,451.7 444.3,453.8 441.9,455.6 439.5,457.1 437.1,458.3 434.7,459.3 432.4,459.8 430.2,460.1 428,460 426.1,459.5 424.2,458.7 422.6,457.6 421.1,456.2 419.9,454.5 418.8,452.5 418.1,450.2 417.5,447.8 417.2,445.1 417.2,442.2 417.4,439.2 417.8,436.1 418.6,432.9 419.5,429.6 420.7,426.4 422.1,423.2 423.7,420 425.4,416.9 427.4,414 429.4,411.3 431.6,408.7 433.9,406.3 436.3,404.2 438.7,402.4 441.1,400.9 443.5,399.7 445.9,398.7 448.2,398.2 450.4,397.9 452.6,398 454.5,398.5 456.4,399.3 458,400.4 459.5,401.8 460.7,403.5 461.8,405.5 462.5,407.8 463.1,410.2 463.4,412.9 463.4,415.8 463.2,418.8 462.8,421.9 462,425.1 461.1,428.4 459.9,431.6 458.5,434.8 456.9,438" fill="none" stroke="#000" stroke-width="1.0" stroke-linejoin="round" />
<polygon points="454.5,436.7 453,439.3 451.3,441.8 449.6,444.1 447.7,446.3 445.7,448.3 443.7,450.1 441.7,451.7 439.6,453 437.6,454 435.5,454.8 433.6,455.3 431.7,455.5 429.9,455.4 428.2,455 426.6,454.3 425.2,453.4 424,452.2 422.9,450.7 422,449 421.3,447.1 420.9,445 420.6,442.7 420.6,440.3 420.8,437.7 421.2,435 421.8,432.3 422.6,429.5 423.6,426.8 424.8,424 426.1,421.3 427.6,418.7 429.3,416.2 431,413.9 432.9,411.7 434.9,409.7 436.9,407.9 438.9,406.3 441,405 443,404 445.1,403.2 447,402.7 448.9,402.5 450.7,402.6 452.4,403 454,403.7 455.4,404.6 456.6,405.8 457.7,407.3 458.6,409 459.3,410.9 459.7,413 460,415.3 460,417.7 459.8,420.3 459.4,423 458.8,425.7 458,428.5 457,431.2 455.8,434 454.5,436.7" fill="none" stroke="#000" stroke-width="1.1" stroke-linejoin="round" />
<polygon points="451.7,435.2 450.5,437.3 449.2,439.3 447.8,441.2 446.3,442.9 444.7,444.6 443.1,446 441.4,447.2 439.7,448.3 438.1,449.1 436.5,449.8 434.9,450.2 433.3,450.3 431.9,450.2 430.5,449.9 429.3,449.4 428.1,448.7 427.1,447.7 426.3,446.5 425.6,445.1 425,443.6 424.7,441.9 424.5,440 424.4,438.1 424.6,436 424.9,433.9 425.4,431.7 426,429.4 426.8,427.2 427.8,425 428.9,422.8 430.1,420.7 431.4,418.7 432.8,416.8 434.3,415.1 435.9,413.4 437.5,412 439.2,410.8 440.9,409.7 442.5,408.9 444.1,408.2 445.7,407.8 447.3,407.7 448.7,407.8 450.1,408.1 451.3,408.6 452.5,409.3 453.5,410.3 454.3,411.5 455,412.9 455.6,414.4 455.9,416.1 456.1,418 456.2,419.9 456,422 455.7,424.1 455.2,426.3 454.6,428.6 453.8,430.8 452.8,433 451.7,435.2" fill="none" stroke="#000" stroke-width="1.0" stroke-linejoin="round" />
<polygon points="448.9,433.6 448,435.2 447,436.7 445.9,438.1 444.8,439.5 443.6,440.7 442.4,441.7 441.1,442.7 439.9,443.5 438.6,444.1 437.4,444.6 436.2,444.9 435.1,445 434,444.9 433,444.7 432,444.3 431.2,443.7 430.4,443 429.8,442.1 429.3,441.1 428.8,439.9 428.6,438.7 428.4,437.3 428.4,435.8 428.5,434.2 428.7,432.6 429.1,431 429.6,429.3 430.2,427.6 430.9,426 431.7,424.4 432.6,422.8 433.6,421.3 434.7,419.9 435.8,418.5 437,417.3 438.2,416.3 439.5,415.3 440.7,414.5 442,413.9 443.2,413.4 444.4,413.1 445.5,413 446.6,413.1 447.6,413.3 448.6,413.7 449.4,414.3 450.2,415 450.8,415.9 451.3,416.9 451.8,418.1 452,419.3 452.2,420.7 452.2,422.2 452.1,423.8 451.9,425.4 451.5,427 451,428.7 450.4,430.4 449.7,432 448.9,433.6" fill="none" stroke="#000" stroke-width="1.2" stroke-linejoin="round" />
<polyline points="428.1,441.7 427.4,440.8 426.9,439.8 426.4,438.6 426.1,437.3 425.9,435.9 425.9,434.4 426,432.8 426.2,431.2 426.6,429.5 427.1,427.8 427.8,426 428.5,424.3" fill="none" stroke="#000" stroke-width="1.3" stroke-linejoin="round" />
<line x1="441.4" y1="428.4" x2="465.7" y2="443" stroke="#000" stroke-width="1" />
<path d="M318.4,342.2 C314.6,341.7 313.8,344.4 311.5,346.5 C309.2,348.6 308.2,350.2 307,352.5 C305.8,354.8 305.7,356.2 305.5,358.2 C305.3,360.2 305.5,361 306,362.5 C306.5,364 306.8,364.2 308.2,365.5 C309.6,366.8 311,367.8 313,368.8 C315,369.8 314.4,368.6 318.4,370.4 C322.4,372.2 329.1,381.7 333,378 C336.9,374.3 338.5,357.8 338,352 C337.5,346.2 334.6,351 330.7,349 C326.8,347 322.2,342.7 318.4,342.2Z" fill="#fff" stroke="#000" stroke-width="1.3" stroke-linejoin="round" stroke-linecap="round"/>
<path d="M322,344.5 C320.8,345.4 317.9,346.7 316,349 C314.1,351.3 313.1,353.2 312.5,356 C311.9,358.8 312.1,360.5 313,363 C313.9,365.5 315.4,366.8 317,368.5 C318.6,370.2 320.2,370.9 321,371.5" fill="none" stroke="#000" stroke-width="1.0" stroke-linejoin="round" stroke-linecap="round"/>
<path d="M325.2,346.3 C324,347.2 321.1,348.5 319.2,350.8 C317.3,353.1 316.3,355 315.7,357.8 C315.1,360.6 315.3,362.3 316.2,364.8 C317.1,367.3 318.6,368.6 320.2,370.3 C321.8,372 323.4,372.7 324.2,373.3" fill="none" stroke="#000" stroke-width="1.0" stroke-linejoin="round" stroke-linecap="round"/>
<path d="M328,347.8 C326.8,348.7 323.9,350 322,352.3 C320.1,354.6 319.1,356.5 318.5,359.3 C317.9,362.1 318.1,363.8 319,366.3 C319.9,368.8 321.4,370.1 323,371.8 C324.6,373.5 326.2,374.2 327,374.8" fill="none" stroke="#000" stroke-width="1.0" stroke-linejoin="round" stroke-linecap="round"/>
<path d="M330.7,349 C329.5,350.1 326.4,352.1 324.5,354.5 C322.6,356.9 321.8,358.1 321,361 C320.2,363.9 320.2,366.5 320.5,369 C320.8,371.5 322.1,372.6 322.5,373.5" fill="none" stroke="#000" stroke-width="1.0" stroke-linejoin="round" stroke-linecap="round"/>
<path d="M330.7,349 C328.7,350.7 325.9,353.5 324,356 C322.1,358.5 320.6,360.7 319.5,364 C318.4,367.3 317.6,372.5 317.7,375.9 C317.8,379.2 318.6,381.9 320.4,384.1 C322.2,386.3 325.6,387.4 328.6,388.9 C331.6,390.4 335.3,393 338.2,392.9 C341.1,392.8 343.7,391.5 346,388 C348.3,384.5 349.4,377.3 352,372 C354.6,366.7 359.8,359.3 361.4,356 C363,352.7 362.2,353.5 361.4,352.3 C360.6,351.1 358.8,350 356.8,348.6 C354.8,347.2 351.8,344.9 349.5,344.1 C347.2,343.4 345.4,343.8 343.2,344.1 C340.9,344.4 338.1,345.2 336,346 C333.9,346.8 332.7,347.3 330.7,349Z" fill="#fff" stroke="#000" stroke-width="1.3" stroke-linejoin="round" stroke-linecap="round"/>
<path d="M327.2,383 C327.3,381.8 327,380.2 327.7,377 C328.4,373.8 328.9,370.7 330.5,366.8 C332.1,362.9 333,360.8 335.9,357.7 C338.8,354.6 341.2,353 345,351.4 C348.8,349.8 351.8,349.3 355,349.5 C358.2,349.7 359.8,351.9 361,352.5" fill="none" stroke="#000" stroke-width="1.3" stroke-linejoin="round" stroke-linecap="round"/>
<path d="M331.8,378 C331.9,376.8 331.9,374.4 332.5,372 C333.1,369.6 333.2,368.6 335,365.9 C336.8,363.2 338.3,360.7 341.4,358.6 C344.5,356.5 346.5,355.9 350.5,355.5 C354.5,355.1 359.2,356.2 361.4,356.4" fill="none" stroke="#000" stroke-width="1.3" stroke-linejoin="round" stroke-linecap="round"/>
<path d="M361.4,356 C363.6,355.7 366,359.5 368,361 C370,362.5 372.4,362.2 373.2,365 C374,367.8 374.9,372.5 373,378 C371.1,383.5 364.6,394.4 362,398 C359.4,401.6 359.5,399.2 357.7,399.5 C355.9,399.8 353.8,400.6 351.4,399.5 C349,398.4 345.2,395.5 343.2,393.2 C341.2,390.9 339.9,388.6 339.5,385.9 C339.1,383.2 340.4,379.1 341,377 C341.6,374.9 341.6,375.1 343.2,373.2 C344.8,371.3 348.5,367.6 350.5,365.9 C352.5,364.2 353.2,364.6 355,363 C356.8,361.4 359.2,356.3 361.4,356Z" fill="#fff" stroke="#000" stroke-width="1.3" stroke-linejoin="round" stroke-linecap="round"/>
<path d="M339.5,385.9 C339.7,384.3 339.8,380.5 340.5,378 C341.2,375.5 341.2,375.6 343.2,373.2 C345.2,370.8 346.9,368.1 350.5,365.9 C354.1,363.7 358,363.2 361.4,362.3 C364.8,361.4 365.3,360.9 367.7,361.4 C370.1,361.9 372.1,364.3 373.2,365" fill="none" stroke="#000" stroke-width="1.3" stroke-linejoin="round" stroke-linecap="round"/>
<path d="M348.6,389 C348.6,387.4 348.2,383.6 348.6,381 C349,378.4 348.9,378.2 350.5,375.9 C352.1,373.6 353.9,371.3 356.8,369.5 C359.7,367.7 362.4,367.2 365,366.8 C367.6,366.4 368.7,367.5 369.6,367.7" fill="none" stroke="#000" stroke-width="1.3" stroke-linejoin="round" stroke-linecap="round"/>
<path d="M358.6,383.2 C359.1,378.7 360.3,382 361.4,380.5 C362.5,379 363.6,376 365,374 C366.4,372 367.7,370 369.5,368.6 C371.3,367.2 373.6,366.3 375.9,365.9 C378.2,365.4 381.1,365.4 383.2,365.9 C385.3,366.3 387.6,367.7 388.6,368.6 C389.7,369.5 389.4,367.8 389.5,371.4 C389.6,375 391.1,383.6 389.5,390 C387.9,396.4 382.9,406.1 380,410 C377.1,413.9 374.9,413.6 372,413.5 C369.1,413.4 364.5,410.5 362.3,409.5 C360.1,408.5 359.2,412.1 358.6,407.7 C358,403.3 358.1,387.7 358.6,383.2Z" fill="#fff" stroke="#000" stroke-width="1.3" stroke-linejoin="round" stroke-linecap="round"/>
<path d="M362.3,409.5 C362.3,409.5 362.3,385 362.3,385 C362.3,385 358.6,383.2 358.6,383.2" fill="none" stroke="#000" stroke-width="1.0" stroke-linejoin="round" stroke-linecap="round"/>
<path d="M362.3,385 C362.8,383.8 363.5,381.4 364.8,379 C366.1,376.6 367,375 369,373 C371,371 372.5,370 375,369 C377.5,368 379.2,367.9 381.5,368 C383.8,368.1 384.9,368.8 386.5,369.5 C388.1,370.2 388.9,371 389.5,371.4" fill="none" stroke="#000" stroke-width="1.0" stroke-linejoin="round" stroke-linecap="round"/>
<polygon points="403.6,389.2 404.3,389.7 405,390.4 405.5,391.1 406,392 406.4,393 406.6,394.1 406.8,395.2 406.8,396.4 406.7,397.7 406.5,399.1 406.2,400.4 405.8,401.8 405.3,403.1 404.7,404.5 404,405.8 403.2,407.1 402.4,408.3 401.5,409.4 400.5,410.5 399.5,411.4 398.5,412.3 397.4,413 396.4,413.6 395.3,414.1 394.3,414.4 393.2,414.6 392.2,414.7 391.3,414.6 390.4,414.3 389.6,414 366.1,400.7 365.4,400.2 364.7,399.5 364.2,398.8 363.7,397.9 363.3,396.9 363.1,395.8 362.9,394.7 362.9,393.5 363,392.2 363.2,390.9 363.5,389.5 363.9,388.1 364.4,386.8 365,385.4 365.7,384.1 366.5,382.8 367.3,381.6 368.2,380.5 369.2,379.4 370.2,378.5 371.2,377.6 372.3,376.9 373.3,376.3 374.4,375.8 375.4,375.5 376.5,375.3 377.5,375.3 378.4,375.3 379.3,375.6 380.1,375.9" fill="#fff" stroke="#000" stroke-width="1.3" stroke-linejoin="round" />
<polygon points="404,405.8 403.2,407.1 402.4,408.3 401.5,409.4 400.5,410.5 399.5,411.4 398.5,412.3 397.4,413 396.4,413.6 395.3,414.1 394.3,414.4 393.2,414.6 392.2,414.7 391.3,414.6 390.4,414.3 389.6,414 388.9,413.5 388.2,412.8 387.7,412.1 387.2,411.2 386.8,410.2 386.6,409.1 386.4,408 386.4,406.8 386.5,405.5 386.7,404.1 387,402.8 387.4,401.4 387.9,400.1 388.5,398.7 389.2,397.4 390,396.1 390.8,394.9 391.7,393.8 392.7,392.7 393.7,391.8 394.7,390.9 395.8,390.2 396.8,389.6 397.9,389.1 398.9,388.8 400,388.6 401,388.5 401.9,388.6 402.8,388.9 403.6,389.2 404.3,389.7 405,390.4 405.5,391.1 406,392 406.4,393 406.6,394.1 406.8,395.2 406.8,396.4 406.7,397.7 406.5,399.1 406.2,400.4 405.8,401.8 405.3,403.1 404.7,404.5 404,405.8" fill="none" stroke="#000" stroke-width="1.3" stroke-linejoin="round" />
<path d="M362.3,409.5 C362.3,409.5 362.3,385 362.3,385 C362.3,385 358.6,383.2 358.6,383.2" fill="none" stroke="#000" stroke-width="1.0" stroke-linejoin="round" stroke-linecap="round"/>
<polygon points="401.7,404.5 400.9,405.8 400,407 399,408.1 397.9,409 396.8,409.7 395.7,410.2 394.6,410.5 393.6,410.6 392.6,410.5 391.8,410.1 391,409.6 390.4,408.8 390,407.9 389.7,406.8 389.6,405.6 389.6,404.3 389.8,402.9 390.2,401.5 390.8,400.1 391.5,398.7 392.3,397.4 393.2,396.2 394.2,395.1 395.3,394.2 396.4,393.5 397.5,393 398.6,392.7 399.6,392.6 400.6,392.7 401.4,393.1 402.2,393.6 402.8,394.4 403.2,395.3 403.5,396.4 403.6,397.6 403.6,398.9 403.4,400.3 403,401.7 402.4,403.1 401.7,404.5" fill="none" stroke="#000" stroke-width="1.3" stroke-linejoin="round" />
<polygon points="400.4,403.8 399.8,404.7 399.1,405.6 398.4,406.4 397.6,407.1 396.8,407.6 395.9,408 395.1,408.2 394.4,408.3 393.6,408.2 393,408 392.5,407.5 392,407 391.7,406.3 391.5,405.5 391.4,404.6 391.4,403.6 391.6,402.6 391.9,401.5 392.3,400.5 392.8,399.4 393.4,398.5 394.1,397.6 394.8,396.8 395.6,396.1 396.4,395.6 397.3,395.2 398.1,395 398.8,394.9 399.6,395 400.2,395.2 400.7,395.7 401.2,396.2 401.5,396.9 401.7,397.7 401.8,398.6 401.8,399.6 401.6,400.6 401.3,401.7 400.9,402.7 400.4,403.8" fill="none" stroke="#000" stroke-width="1.4" stroke-linejoin="round" />
<polygon points="399.7,403.4 399.3,404 398.8,404.6 398.3,405.2 397.8,405.7 397.2,406 396.6,406.3 396.1,406.4 395.6,406.5 395.1,406.4 394.6,406.3 394.3,406 394,405.6 393.7,405.1 393.6,404.6 393.5,403.9 393.5,403.3 393.7,402.6 393.9,401.8 394.1,401.1 394.5,400.4 394.9,399.8 395.4,399.2 395.9,398.6 396.4,398.1 397,397.8 397.6,397.5 398.1,397.4 398.6,397.3 399.1,397.4 399.6,397.5 399.9,397.8 400.2,398.2 400.5,398.7 400.6,399.2 400.7,399.9 400.7,400.5 400.5,401.2 400.3,402 400.1,402.7 399.7,403.4" fill="none" stroke="#000" stroke-width="1.3" stroke-linejoin="round" />
<polyline points="398.4,403.9 398.1,404.3 397.7,404.6 397.4,404.8 397,404.9 396.7,405 396.3,405 396,405 395.8,404.9 395.5,404.7 395.3,404.4 395.2,404.1 395.1,403.7 395.1,403.3 395.1,402.9 395.2,402.4 395.4,402 395.5,401.5 395.8,401.1 396.1,400.6 396.4,400.3" fill="none" stroke="#000" stroke-width="0.8" stroke-linejoin="round" />
<path d="M391,385.5 l3.5,1.3 l-0.8,2.5 l2.8,1.2 M395.5,388.5 l-1.5,3.5" fill="none" stroke="#000" stroke-width="1.3" stroke-linejoin="round" stroke-linecap="round" />
<polygon points="512,404 604,375 614,381 614,392 522,422 515,414" fill="#fff" stroke="#000" stroke-width="0" stroke-linejoin="round" />
<polygon points="515.5,405.7 532,401.3 548.5,396.9 565,392.5 581.5,387.6 603.5,377.7 611.5,382 597,388.5 520.5,410" fill="#fff" stroke="#000" stroke-width="1.1" stroke-linejoin="round" />
<path d="M517.3,407.5 C523.7,405.8 536.3,402.5 549.3,398.9 C562.3,395.3 571.3,393.5 582.3,389.7 C593.4,385.9 600.2,381.8 604.6,379.8" fill="none" stroke="#000" stroke-width="0.9" stroke-linejoin="round" stroke-linecap="round"/>
<path d="M518.2,408.2 C524.6,406.5 537.2,403.2 550.2,399.6 C563.2,396 572.1,394.2 583.2,390.4 C594.3,386.6 601.2,382.4 605.7,380.5" fill="none" stroke="#000" stroke-width="0.9" stroke-linejoin="round" stroke-linecap="round"/>
<path d="M519,408.9 C525.4,407.2 538,403.9 551,400.3 C564,396.7 572.9,394.9 584,391.1 C595.2,387.3 602.3,383.1 606.9,381.1" fill="none" stroke="#000" stroke-width="0.9" stroke-linejoin="round" stroke-linecap="round"/>
<path d="M519.9,409.6 C526.3,407.9 538.9,404.6 551.9,401 C564.9,397.4 573.6,395.7 584.9,391.8 C596.1,387.9 603.4,383.7 608,381.7" fill="none" stroke="#000" stroke-width="0.9" stroke-linejoin="round" stroke-linecap="round"/>
<path d="M520.7,410.3 C527.1,408.6 539.7,405.3 552.7,401.7 C565.7,398.1 574.4,396.4 585.7,392.5 C597,388.6 604.4,384.4 609.1,382.3" fill="none" stroke="#000" stroke-width="0.9" stroke-linejoin="round" stroke-linecap="round"/>
<path d="M519.4,408.8 L534,404.6 L534.4,412.3 Q532.5,414.3 530.5,413.5 L523.4,417 Q520.9,419.2 519.9,417 Z" fill="#fff" stroke="#000" stroke-width="1.3" stroke-linejoin="round"/>
<ellipse cx="522.7" cy="413.4" rx="1.8" ry="2" transform="rotate(0 522.7 413.4)" fill="none" stroke="#000" stroke-width="1.1" />
<ellipse cx="531" cy="409" rx="1.8" ry="2" transform="rotate(0 531 409)" fill="none" stroke="#000" stroke-width="1.1" />
<line x1="520.4" y1="409.8" x2="520.7" y2="416.5" stroke="#000" stroke-width="0.8" />
<path d="M534.8,403.8 L549.4,399.6 L549.8,407.3 Q547.9,409.3 545.9,408.5 L538.8,412 Q536.3,414.2 535.3,412 Z" fill="#fff" stroke="#000" stroke-width="1.3" stroke-linejoin="round"/>
<ellipse cx="538.1" cy="408.4" rx="1.8" ry="2" transform="rotate(0 538.1 408.4)" fill="none" stroke="#000" stroke-width="1.1" />
<ellipse cx="546.4" cy="404" rx="1.8" ry="2" transform="rotate(0 546.4 404)" fill="none" stroke="#000" stroke-width="1.1" />
<line x1="535.8" y1="404.8" x2="536.1" y2="411.5" stroke="#000" stroke-width="0.8" />
<path d="M550.2,400 L564.8,395.9 L565.2,403.6 Q563.3,405.6 561.3,404.8 L554.2,408.2 Q551.7,410.4 550.7,408.2 Z" fill="#fff" stroke="#000" stroke-width="1.3" stroke-linejoin="round"/>
<ellipse cx="553.5" cy="404.6" rx="1.8" ry="2" transform="rotate(0 553.5 404.6)" fill="none" stroke="#000" stroke-width="1.1" />
<ellipse cx="561.8" cy="400.3" rx="1.8" ry="2" transform="rotate(0 561.8 400.3)" fill="none" stroke="#000" stroke-width="1.1" />
<line x1="551.2" y1="401" x2="551.5" y2="407.7" stroke="#000" stroke-width="0.8" />
<path d="M565.6,395 L580.2,390.9 L580.6,398.6 Q578.7,400.6 576.7,399.8 L569.6,403.2 Q567.1,405.4 566.1,403.2 Z" fill="#fff" stroke="#000" stroke-width="1.3" stroke-linejoin="round"/>
<ellipse cx="568.9" cy="399.6" rx="1.8" ry="2" transform="rotate(0 568.9 399.6)" fill="none" stroke="#000" stroke-width="1.1" />
<ellipse cx="577.2" cy="395.3" rx="1.8" ry="2" transform="rotate(0 577.2 395.3)" fill="none" stroke="#000" stroke-width="1.1" />
<line x1="566.6" y1="396" x2="566.9" y2="402.7" stroke="#000" stroke-width="0.8" />
<path d="M580.6,391.4 L595.2,387.2 L595.6,394.9 Q593.7,396.9 591.7,396.1 L584.6,399.6 Q582.1,401.8 581.1,399.6 Z" fill="#fff" stroke="#000" stroke-width="1.3" stroke-linejoin="round"/>
<ellipse cx="583.9" cy="396" rx="1.8" ry="2" transform="rotate(0 583.9 396)" fill="none" stroke="#000" stroke-width="1.1" />
<ellipse cx="592.2" cy="391.6" rx="1.8" ry="2" transform="rotate(0 592.2 391.6)" fill="none" stroke="#000" stroke-width="1.1" />
<line x1="581.6" y1="392.4" x2="581.9" y2="399.1" stroke="#000" stroke-width="0.8" />
<path d="M596.2,386.3 L610.8,382.2 L611.2,389.9 Q609.3,391.9 607.3,391.1 L600.2,394.5 Q597.7,396.7 596.7,394.5 Z" fill="#fff" stroke="#000" stroke-width="1.3" stroke-linejoin="round"/>
<ellipse cx="599.5" cy="390.9" rx="1.8" ry="2" transform="rotate(0 599.5 390.9)" fill="none" stroke="#000" stroke-width="1.1" />
<ellipse cx="607.8" cy="386.6" rx="1.8" ry="2" transform="rotate(0 607.8 386.6)" fill="none" stroke="#000" stroke-width="1.1" />
<line x1="597.2" y1="387.3" x2="597.5" y2="394" stroke="#000" stroke-width="0.8" />
<path d="M459.2,637.2 C460.1,635.6 460.6,635.1 465.5,630.9 C470.4,626.7 484.1,616 488.6,612 C493.2,608 483.5,613.7 492.8,606.7 C502.1,599.7 526.3,582.9 544.2,570 C562.1,557.1 587.3,538.4 600,529.5 C612.7,520.6 608.8,524.1 620.4,516.8 C632,509.5 660.2,491.2 669.6,485.6 C679,480 674.4,483.8 676.8,483.2 C679.2,482.6 681.4,482 684,482 C686.6,482 689.8,483.4 692.4,483.2 C695,483 697.4,480.9 699.6,480.8 C701.8,480.7 704,481.8 705.6,482.6 C707.2,483.4 708.5,484.5 709.2,485.6 C709.9,486.7 710.6,487.4 709.8,489.2 C709,491 706.9,494 704.4,496.4 C701.9,498.8 696.8,502.5 694.8,503.6 C692.8,504.7 693.4,503.4 692.4,503 C691.4,502.6 690.2,502.1 688.8,501.2 C687.4,500.3 685,498 684,497.6 C683,497.2 691,494 682.8,499 C674.6,504 645,521.2 634.8,527.6 C624.6,534 627.4,533.2 621.6,537.2 C615.8,541.2 610.3,544.4 600,551.6 C589.7,558.8 571.9,571.7 560,580.5 C548.1,589.3 538.5,596.9 528.5,604.6 C518.5,612.3 509.7,620 500.1,626.7 C490.5,633.5 476.4,642.1 470.8,645.1 C465.2,648.1 468.3,645.3 466.5,644.5 C464.7,643.7 461.4,641.6 460.2,640.4 C459,639.2 458.3,638.8 459.2,637.2Z" fill="#fff" stroke="#000" stroke-width="1.3" stroke-linejoin="round"/>
<path d="M492.8,606.7 C501.4,600.6 526.3,582.7 544.2,570 C562.1,557.3 584,541.3 600,530.5 C616,519.7 627.8,512.5 640,505 C652.2,497.5 666.7,489 673,485.5 C679.3,482 677.2,484.2 678,484" fill="none" stroke="#000" stroke-width="1.1" stroke-linejoin="round" stroke-linecap="round"/>
<path d="M493.5,609.5 C502.2,603.4 528.2,585.4 546,572.7 C563.8,560 584.3,544.2 600,533.4 C615.7,522.6 627.6,515.6 640,508 C652.4,500.4 668,491.4 674.5,487.8 C681,484.2 678.2,486.7 679,486.5" fill="none" stroke="#000" stroke-width="0.9" stroke-linejoin="round" stroke-linecap="round"/>
<path d="M494.5,611.5 C503.2,605.4 529.2,587.4 547,574.8 C564.8,562.1 585.3,546.4 601,535.6 C616.7,524.8 628.6,517.6 641,510 C653.4,502.4 669,493.5 675.5,490 C682,486.5 679.2,489.2 680,489" fill="none" stroke="#000" stroke-width="0.9" stroke-linejoin="round" stroke-linecap="round"/>
<path d="M492.8,606.7 C492.6,607.2 491.2,608.7 491.5,609.5 C491.8,610.3 494,611.2 494.5,611.5" fill="none" stroke="#000" stroke-width="1.0" stroke-linejoin="round" stroke-linecap="round"/>
<path d="M498,616.2 C498.9,615.7 495.3,618.7 503.3,613 C511.3,607.3 529.9,593.8 546,582 C562.1,570.2 584.3,553.3 600,542.5 C615.7,531.7 626.4,525.7 640,517 C653.6,508.3 674.7,494.8 681.6,490.4" fill="none" stroke="#000" stroke-width="1.1" stroke-linejoin="round" stroke-linecap="round"/>
<path d="M498,616.2 C497.8,616.8 501.7,615.1 497,619.5 C492.3,623.9 474.2,638.7 469.7,642.5" fill="none" stroke="#000" stroke-width="1.1" stroke-linejoin="round" stroke-linecap="round"/>
<path d="M470.8,645.1 C470.6,644.7 469.9,642.9 469.7,642.5" fill="none" stroke="#000" stroke-width="1.1" stroke-linejoin="round" stroke-linecap="round"/>
<path d="M682.8,490.4 C683,491.6 683.8,496.4 684,497.6" fill="none" stroke="#000" stroke-width="1.1" stroke-linejoin="round" stroke-linecap="round"/>
<path d="M682.8,490.4 C683.7,490.1 686.5,488.7 688,488.5 C689.5,488.3 690.8,488.3 692,489 C693.2,489.7 694.5,491.3 695,492.5 C695.5,493.7 694.8,495.4 694.8,496" fill="none" stroke="#000" stroke-width="1.1" stroke-linejoin="round" stroke-linecap="round"/>
<path d="M692.4,483.2 C693,483.7 694.8,485.1 696,486 C697.2,486.9 698.3,487.9 699.6,488.5 C700.9,489.1 702.3,489.4 704,489.5 C705.7,489.6 708.8,489.2 709.8,489.2" fill="none" stroke="#000" stroke-width="1.0" stroke-linejoin="round" stroke-linecap="round"/>
<ellipse cx="701.3" cy="485.3" rx="2.5" ry="1.5" transform="rotate(-20 701.3 485.3)" fill="none" stroke="#000" stroke-width="1.0" />
<polygon points="621.6,524.5 634.8,516.2 634.8,527.6 621.6,537.2" fill="#fff" stroke="#000" stroke-width="1.1" stroke-linejoin="round" />
<line x1="623.5" y1="523.3" x2="623.5" y2="536" stroke="#000" stroke-width="0.9" />
<path d="M544.2,599.4 C544.4,598 544.2,593.4 545.3,591 C546.4,588.6 548.5,586.8 551,585 C553.5,583.2 558.5,581.2 560,580.5" fill="none" stroke="#000" stroke-width="1.0" stroke-linejoin="round" stroke-linecap="round"/>
<polygon points="536.5,600.5 543,598.5 549.5,601.5 550.5,606.5 549,611 544.5,612.5 537.5,609.5 536,604" fill="#fff" stroke="#000" stroke-width="1.1" stroke-linejoin="round" />
<path d="M543,598.5 C542.9,599.2 542.4,601.4 542.5,603 C542.6,604.6 543.2,606.4 543.5,608 C543.8,609.6 544.3,611.8 544.5,612.5" fill="none" stroke="#000" stroke-width="1.0" stroke-linejoin="round" stroke-linecap="round"/>
<path d="M536.5,600.5 C535.9,600.7 534,601.1 533,601.5 C532,601.9 530.3,602.2 530.5,603 C530.7,603.8 532.8,604.9 534,606 C535.2,607.1 536.9,608.9 537.5,609.5" fill="none" stroke="#000" stroke-width="1.0" stroke-linejoin="round" stroke-linecap="round"/>
<path d="M532.5,602.5 C532.9,602.7 534.6,603.3 535,603.5" fill="none" stroke="#000" stroke-width="0.9" stroke-linejoin="round" stroke-linecap="round"/>
<path d="M729.9,425.6 C731.2,424.1 731.7,420.7 737.3,418.2 C742.9,415.7 758.3,411.9 763.4,410.8 C768.5,409.7 767,410.7 768,411.4 C769,412.1 769.5,412.9 769.7,414.8 C769.9,416.7 769.8,420.2 769.1,422.7 C768.4,425.1 767.2,427.6 765.7,429.5 C764.2,431.4 761.2,432.8 760,434.1 C758.8,435.4 759,434.7 758.3,437.5 C757.5,440.3 756.4,446.8 755.5,451.1 C754.6,455.5 754.1,460 753.2,463.6 C752.3,467.2 750.9,470.2 750.3,472.7 C749.7,475.2 749.5,476.7 749.8,478.4 C750.1,480.1 751.8,481.3 752,483 C752.2,484.7 751.8,486.9 750.9,488.6 C750,490.3 748.1,492.2 746.4,493.2 C744.7,494.1 742.2,494.7 740.7,494.3 C739.2,493.9 738.2,492.1 737.5,491 C736.8,489.9 737,488.9 736.5,488 C736,487.1 735.3,486.4 734.5,485.5 C733.7,484.6 732.8,483.1 731.5,482.5 C730.2,481.9 729,482.5 727,481.8 C725,481.1 720.5,479.9 719.7,478.4 C719,476.9 720.9,475.5 722.5,472.7 C724.1,469.9 727.6,465.6 729.3,461.4 C731,457.2 732.2,451.7 732.7,447.7 C733.2,443.7 732.8,440.9 732.2,437.5 C731.6,434.1 729.7,429.3 729.3,427.3 C728.9,425.3 728.6,427.1 729.9,425.6Z" fill="#fff" stroke="#000" stroke-width="1.3" stroke-linejoin="round"/>
<path d="M729.3,427.3 C730.2,427.6 733.5,428.4 735,429 C736.5,429.6 737.5,428.9 738.4,430.7 C739.2,432.5 739.9,436.4 740.1,439.8 C740.3,443.2 740.2,447.1 739.5,451.1 C738.8,455.1 737.3,459.6 735.6,463.6 C733.9,467.6 730.7,472.1 729.3,475 C727.9,477.9 727.4,479.8 727,480.7" fill="none" stroke="#000" stroke-width="1.1" stroke-linejoin="round" stroke-linecap="round"/>
<path d="M738.4,430.7 C738.4,430.7 740,428 740,428" fill="none" stroke="#000" stroke-width="1.0" stroke-linejoin="round" stroke-linecap="round"/>
<path d="M719.7,478.4 C719.7,478.4 727,480.7 727,480.7" fill="none" stroke="#000" stroke-width="1.0" stroke-linejoin="round" stroke-linecap="round"/>
<path d="M743,434.1 C744,431.6 749,432.4 750.3,432.4 C751.6,432.4 751.2,430.8 750.9,434.1 C750.6,437.4 749.7,447.2 748.6,452.3 C747.5,457.4 745.6,461.2 744.1,464.8 C742.6,468.4 740.8,472.6 739.5,473.9 C738.2,475.2 735.9,474.8 736.1,472.7 C736.3,470.6 739.4,465.6 740.7,461.4 C742,457.2 743.7,452.2 744.1,447.7 C744.5,443.1 742,436.7 743,434.1Z" fill="none" stroke="#000" stroke-width="1.1" stroke-linejoin="round" stroke-linecap="round"/>
<path d="M745,436 C744.9,438.2 745.2,444.7 744.5,449 C743.8,453.3 742.2,458.3 741,462 C739.8,465.7 738.1,469.5 737.5,471" fill="none" stroke="#000" stroke-width="0.8" stroke-linejoin="round" stroke-linecap="round"/>
<ellipse cx="762.3" cy="422.2" rx="3.2" ry="4" transform="rotate(30 762.3 422.2)" fill="#fff" stroke="#000" stroke-width="1.3" />
<ellipse cx="744.7" cy="485.8" rx="3" ry="3.9" transform="rotate(30 744.7 485.8)" fill="#fff" stroke="#000" stroke-width="1.3" />
<path d="M732.5,482 C732.9,482.4 734.9,483.7 735,484.5 C735.1,485.3 733.7,486.2 733,487 C732.3,487.8 731.3,488.7 731,489" fill="none" stroke="#000" stroke-width="1.0" stroke-linejoin="round" stroke-linecap="round"/>
<polygon points="715.6,506.3 738,492 740.5,493.5 740.3,504.3 720.7,515.5 716.8,514.5 715.3,510.5" fill="#fff" stroke="#000" stroke-width="1.3" stroke-linejoin="round" />
<path d="M738,492 L736.5,490 L734.5,488.5 L734,486 M740.3,494 L740.5,491" fill="none" stroke="#000" stroke-width="1.3" stroke-linejoin="round" stroke-linecap="round" />
<line x1="745.4" y1="486" x2="761" y2="495.3" stroke="#000" stroke-width="1.1" />
<polygon points="780.7,502 780.9,502.1 781,502.3 781.1,502.4 781.2,502.6 781.3,502.9 781.3,503.1 781.3,503.4 781.3,503.8 781.3,504.1 781.2,504.4 781.1,504.8 781,505.2 780.9,505.5 780.7,505.9 780.6,506.3 780.4,506.6 780.2,507 780,507.3 779.7,507.6 779.5,507.9 779.2,508.2 779,508.4 778.8,508.6 778.5,508.8 778.3,508.9 778,509 777.8,509.1 777.6,509.1 777.4,509.1 777.3,509 761.7,501.2 761.5,501.1 761.4,500.9 761.3,500.8 761.2,500.6 761.1,500.3 761.1,500.1 761.1,499.8 761.1,499.4 761.1,499.1 761.2,498.8 761.3,498.4 761.4,498 761.5,497.7 761.7,497.3 761.8,496.9 762,496.6 762.2,496.2 762.4,495.9 762.7,495.6 762.9,495.3 763.2,495 763.4,494.8 763.6,494.6 763.9,494.4 764.1,494.3 764.4,494.2 764.6,494.1 764.8,494.1 765,494.1 765.1,494.2" fill="#fff" stroke="#000" stroke-width="1.1" stroke-linejoin="round" />
<polyline points="764.2,502.4 764,502.1 763.9,501.6 763.9,501.1 764,500.4 764.1,499.7 764.4,499 764.7,498.3 765,497.7 765.5,497 765.9,496.5 766.4,496.1 766.9,495.8 767.3,495.6 767.7,495.5" fill="none" stroke="#000" stroke-width="1.1" stroke-linejoin="round" />
<polyline points="767.1,503.8 766.9,503.5 766.8,503 766.7,502.5 766.8,501.9 766.9,501.2 767.2,500.5 767.5,499.8 767.9,499.1 768.3,498.5 768.8,497.9 769.2,497.5 769.7,497.2 770.1,497 770.5,497" fill="none" stroke="#000" stroke-width="1.1" stroke-linejoin="round" />
<polyline points="769.9,505.3 769.7,504.9 769.6,504.5 769.6,503.9 769.6,503.3 769.8,502.6 770,501.9 770.3,501.2 770.7,500.5 771.1,499.9 771.6,499.3 772.1,498.9 772.5,498.6 773,498.4 773.4,498.4" fill="none" stroke="#000" stroke-width="1.1" stroke-linejoin="round" />
<polyline points="772.8,506.7 772.5,506.3 772.4,505.9 772.4,505.3 772.5,504.7 772.6,504 772.9,503.3 773.2,502.6 773.6,501.9 774,501.3 774.4,500.8 774.9,500.3 775.4,500 775.8,499.8 776.2,499.8" fill="none" stroke="#000" stroke-width="1.1" stroke-linejoin="round" />
<polyline points="775.6,508.1 775.4,507.7 775.3,507.3 775.2,506.7 775.3,506.1 775.5,505.4 775.7,504.7 776,504 776.4,503.3 776.8,502.7 777.3,502.2 777.7,501.7 778.2,501.4 778.6,501.3 779,501.2" fill="none" stroke="#000" stroke-width="1.1" stroke-linejoin="round" />
<polygon points="794.9,503.9 795.4,504.2 795.8,504.6 796.1,505 796.4,505.5 796.6,506.1 796.8,506.7 796.9,507.4 796.9,508.2 796.9,509 796.8,509.8 796.6,510.6 796.4,511.5 796.1,512.3 795.8,513.2 795.4,514 795,514.8 794.5,515.6 794,516.3 793.4,517 792.8,517.6 792.2,518.2 791.6,518.7 791,519.1 790.4,519.5 789.8,519.7 789.2,519.9 788.6,520 788.1,520 787.5,519.9 787.1,519.7 778.5,514.9 778,514.6 777.6,514.2 777.3,513.8 777,513.3 776.8,512.7 776.6,512.1 776.5,511.4 776.5,510.6 776.5,509.8 776.6,509 776.8,508.2 777,507.3 777.3,506.5 777.6,505.6 778,504.8 778.4,504 778.9,503.2 779.4,502.5 780,501.8 780.6,501.2 781.2,500.6 781.8,500.1 782.4,499.7 783,499.3 783.6,499.1 784.2,498.9 784.8,498.8 785.3,498.8 785.9,498.9 786.3,499.1" fill="#fff" stroke="#000" stroke-width="1.3" stroke-linejoin="round" />
<polygon points="795.4,514 795,514.8 794.5,515.6 794,516.3 793.4,517 792.8,517.6 792.2,518.2 791.6,518.7 791,519.1 790.4,519.5 789.8,519.7 789.2,519.9 788.6,520 788.1,520 787.5,519.9 787.1,519.7 786.6,519.4 786.2,519 785.9,518.6 785.6,518.1 785.4,517.5 785.2,516.9 785.1,516.2 785.1,515.4 785.1,514.6 785.2,513.8 785.4,513 785.6,512.1 785.9,511.3 786.2,510.4 786.6,509.6 787,508.8 787.5,508 788,507.3 788.6,506.6 789.2,506 789.8,505.4 790.4,504.9 791,504.5 791.6,504.1 792.2,503.9 792.8,503.7 793.4,503.6 793.9,503.6 794.5,503.7 794.9,503.9 795.4,504.2 795.8,504.6 796.1,505 796.4,505.5 796.6,506.1 796.8,506.7 796.9,507.4 796.9,508.2 796.9,509 796.8,509.8 796.6,510.6 796.4,511.5 796.1,512.3 795.8,513.2 795.4,514" fill="none" stroke="#000" stroke-width="1.3" stroke-linejoin="round" />
<ellipse cx="789.9" cy="512.1" rx="2.9" ry="4.6" transform="rotate(22 789.9 512.1)" fill="none" stroke="#000" stroke-width="1.3" />
<ellipse cx="789.9" cy="512.1" rx="1.6" ry="3" transform="rotate(22 789.9 512.1)" fill="none" stroke="#000" stroke-width="0.9" />
<path d="M267.9,592.9 C268.3,590 269.2,588.2 270.9,586.9 C272.5,585.6 274.4,585.4 276.9,585.9 C279.4,586.4 281.9,586.8 284.8,589.9 C287.7,593 289.9,598.8 292.8,602.8 C295.7,606.8 293.4,606.9 300.7,611.8 C308,616.7 325.9,627.2 332.6,629.7 C339.3,632.2 335.5,627 337.5,625.7 C339.5,624.4 340.8,622.7 343.5,622.7 C346.2,622.7 349.7,623.5 352.4,625.7 C355.1,627.9 357.1,631.6 358.4,634.7 C359.7,637.8 359.8,640.2 359.4,642.6 C359,645 357.4,646.5 356,648 C354.6,649.5 352.7,649 351.8,650.9 C350.9,652.8 350.6,656.2 350.9,658.2 C351.2,660.2 352.1,660.6 353.6,661.8 C355.1,663 355.8,665.6 359.1,664.5 C362.4,663.4 369,657.2 371.8,655.9 C374.6,654.6 373.9,655.7 374.5,657.3 C375.1,658.9 374.7,662.7 375,664.5 C375.3,666.3 375.6,667.4 376.4,667.3 C377.2,667.2 378.1,664.5 379.1,664.1 C380.1,663.7 381.2,660.1 381.8,665 C382.4,669.9 383.3,685.5 382.3,690.9 C381.3,696.3 377.6,690.8 376.4,694.5 C375.2,698.2 376.4,707.6 375.9,710.9 C375.4,714.2 374.8,711.9 373.6,712.7 C372.4,713.5 370.8,715.5 369.1,715.5 C367.4,715.5 365.4,715 364.5,712.7 C363.6,710.4 364.8,704.4 364.1,702.7 C363.4,701 362.7,704.1 360.9,703.6 C359.1,703.1 357.3,701.1 354.5,700 C351.7,698.9 347.7,697.7 345.5,697.7 C343.3,697.7 343.3,698.6 342.7,700 C342.1,701.4 342.2,703.3 342.3,705.5 C342.4,707.7 341.6,709.2 343.5,712.2 C345.4,715.2 349.7,718.5 352.4,722.1 C355.1,725.7 357.5,729.4 358.4,732.1 C359.3,734.9 358.9,735.8 357.4,737.1 C355.9,738.4 352.9,739.2 350.4,739 C347.9,738.8 346,738.1 343.5,736.1 C341,734.1 339.2,732.1 336.5,728.1 C333.8,724.1 331.5,717.5 328.6,714.2 C325.7,710.9 329.7,713.8 320.6,710.2 C311.5,706.6 288,698.7 278.9,694.3 C269.8,689.9 272.9,690 270.9,686.4 C268.9,682.8 267.9,677.3 267.9,674.4 C267.9,671.5 268.2,671.9 270.9,670.5 C273.6,669.1 279.7,668.7 282.8,666.5 C285.9,664.3 287.1,664 287.8,658.5 C288.5,653 287.5,642.8 286.8,636.6 C286.1,630.4 286,628.7 283.8,624.7 C281.6,620.7 277.6,618.8 274.9,614.8 C272.2,610.8 270.2,606.8 268.9,602.8 C267.6,598.8 267.5,595.8 267.9,592.9Z" fill="#fff" stroke="#000" stroke-width="1.3" stroke-linejoin="round"/>
<polygon points="269.3,593.1 269.2,594.4 269.2,595.8 269.2,597.4 269.4,599 269.8,600.7 270.2,602.4 270.9,604.2 271.7,606.2 272.7,608.2 273.7,610.2 274.9,612.2 276,614 277.3,615.6 278.9,617.2 280.5,618.7 280.5,618.8 282.1,620.3 282.2,620.4 283.7,622 283.8,622.2 285,623.9 285.1,624.1 285.9,625.8 286,626 286.6,627.6 286.7,627.8 287.1,629.5 287.2,629.6 287.5,631.6 287.6,631.6 287.9,633.8 287.9,633.8 288.2,636.4 288.2,636.4 288.5,639.7 288.5,639.7 288.9,643.5 288.9,643.6 289.2,647.7 289.2,647.7 289.4,651.8 289.4,651.9 289.4,655.5 289.4,655.6 289.2,658.6 289.2,658.8 288.8,660.9 288.7,661.1 288.2,662.8 288.1,662.9 288,663 287.3,664.3 287.2,664.4 287.2,664.5 286.2,665.6 286.2,665.6 286.1,665.7 285,666.6 284.9,666.7 283.6,667.6 283.5,667.7 281.8,668.6 281.7,668.7 281.6,668.7 279.5,669.5 279.4,669.5 277.1,670.1 277.1,670.1 274.8,670.7 272.9,671.2 271.5,671.8 270.5,672.3 269.8,672.7 269.5,672.9 269.4,673 269.3,673.5 269.3,674.4 269.4,675.8 269.7,677.7 270.1,679.8 270.6,682 271.3,684 272.2,685.8 272.2,685.8 272.8,687.3 272.9,687.4 273.2,688.5 273.6,689.3 274.5,690.1 276.3,691.4 279.5,693 284.8,695.3 292,698.1 300.2,701.2 308.4,704.2 308.4,704.2 315.7,706.8 315.7,706.8 321.1,708.9 324.3,710.1 326.2,710.7 327.1,711 327.2,711 327.4,711.1 327.8,711.3 327.9,711.4 328,711.5 328.1,711.5 328.2,711.6 328.7,712.2 328.7,712.2 329.7,713.3 329.7,713.4 331.1,715.2 331.1,715.3 332.5,717.6 332.5,717.7 333.9,720.3 333.9,720.3 335.2,722.9 336.5,725.3 337.7,727.3 338.9,729 340,730.5 341.1,731.9 342.2,733.1 343.3,734.1 344.4,735 345.4,735.8 346.5,736.4 347.5,736.9 348.5,737.2 349.5,737.5 350.5,737.6 351.5,737.6 352.7,737.5 353.9,737.2 355,736.8 355.9,736.4 356.5,736 356.9,735.6 357.2,735.2 357.3,734.8 357.4,734.2 357.3,733.5 357.1,732.5 356.6,731.3 355.8,729.8 354.8,728.1 353.7,726.4 352.5,724.6 351.3,723 349.9,721.3 348.4,719.6 346.7,717.9 346.6,717.9 345,716.2 345,716.2 343.5,714.6 343.4,714.5 342.4,713 342.3,712.9 342.3,712.8 341.6,711.5 341.5,711.4 341.5,711.3 341.1,710.1 341.1,710 341.1,709.9 340.9,708.8 340.9,708.6 340.9,707.6 340.9,707.5 340.9,706.5 340.9,705.5 340.8,704.6 340.8,704.5 340.8,703.5 340.8,703.4 340.9,702.4 340.9,702.4 340.9,701.4 341,701.3 341.1,700.5 341.1,700.3 341.4,699.6 341.4,699.5 341.7,698.8 341.7,698.8 342,698.2 342,698.1 342.1,698 342.4,697.5 342.5,697.4 342.6,697.3 342.7,697.3 343.2,696.9 343.3,696.8 343.4,696.7 343.5,696.7 344.2,696.5 344.3,696.4 344.4,696.4 344.5,696.4 345.4,696.3 345.5,696.3 345.6,696.3 346.8,696.4 346.9,696.4 348.4,696.7 348.5,696.7 350.1,697.1 350.2,697.1 351.8,697.6 351.9,697.6 353.5,698.2 353.6,698.2 355,698.7 355.1,698.7 356.3,699.3 356.5,699.4 357.6,700.1 357.7,700.1 358.8,700.8 358.8,700.8 359.8,701.5 360.7,702 361.2,702.2 361.3,702.2 361.5,702.1 362,701.7 362,701.7 362.5,701.3 362.6,701.2 362.7,701.1 362.8,701.1 362.9,701 363.1,701 363.5,700.9 363.6,700.9 363.8,700.9 363.9,700.9 364,700.9 364.2,700.9 364.3,701 364.4,701 364.6,701.1 364.7,701.2 364.8,701.3 364.9,701.4 365.2,701.8 365.3,702 365.4,702.1 365.4,702.2 365.5,702.3 365.5,702.5 365.7,703.6 365.7,703.7 365.7,703.8 365.7,705.5 365.7,705.5 365.6,707.5 365.6,709.5 365.6,711.2 365.8,712.2 366.2,712.8 366.6,713.3 367.2,713.6 367.8,713.9 368.5,714.1 369,714.1 369.4,714 370,713.7 370.7,713.3 371.4,712.7 372.1,712.1 372.1,712.1 372.8,711.6 372.9,711.5 373,711.4 373.1,711.4 373.7,711.2 373.8,711.2 373.9,711.1 374,711.1 374.2,711.1 374.3,711.1 374.4,711.1 374.5,710.7 374.6,708.8 374.6,706.1 374.5,702.8 374.5,702.8 374.5,699.6 374.5,699.5 374.6,696.6 374.6,696.4 375,694.3 375.1,694.1 375.1,694 375.2,693.8 375.2,693.7 376,692.6 376.1,692.5 376.2,692.4 376.3,692.3 376.4,692.3 376.5,692.2 376.6,692.1 376.7,692.1 376.8,692.1 377.9,691.8 378,691.8 378.2,691.8 378.3,691.8 379.5,691.9 380.2,691.9 380.5,691.7 380.9,690.6 381.2,687.5 381.3,683 381.2,677.8 381,672.7 380.7,668.2 380.4,665.2 380.4,664.9 380,665.2 380,665.2 379.6,665.5 379.3,665.9 378.8,666.6 378.4,667.3 378.3,667.4 377.9,667.9 377.8,668.1 377.6,668.2 377.5,668.3 377.1,668.5 377,668.6 376.9,668.6 376.8,668.6 376.6,668.7 376.5,668.7 376.4,668.7 376.2,668.7 376.1,668.7 375.8,668.6 375.6,668.6 375.5,668.5 375.4,668.4 375.2,668.4 375.1,668.3 374.9,668 374.8,667.9 374.7,667.8 374.6,667.7 374.3,667.2 374.3,667.1 374.2,667 374,666.5 374,666.3 373.8,665.7 373.8,665.6 373.6,664.8 373.6,664.7 373.5,663.6 373.5,663.5 373.4,662.3 373.4,662.2 373.4,660.8 373.4,659.5 373.3,658.4 373.1,657.7 373,657 372.9,657 372.9,657 372.4,657.2 371,658.1 368.9,659.6 366.5,661.4 366.5,661.4 364,663.2 363.9,663.3 361.7,664.8 361.5,664.9 359.7,665.8 359.6,665.8 359.5,665.9 359.3,665.9 358,666.1 357.8,666.1 357.7,666.1 357.6,666.1 357.4,666.1 356.3,665.8 356.2,665.8 356,665.7 355.9,665.7 355,665.1 354.9,665 354.8,664.9 354,664.2 353.9,664.1 353.3,663.4 352.7,662.9 352.1,662.4 352,662.4 351.5,661.9 351.4,661.8 350.9,661.3 350.8,661.2 350.7,661.1 350.3,660.5 350.2,660.4 350.2,660.3 349.8,659.6 349.8,659.5 349.8,659.4 349.5,658.5 349.5,658.4 349.5,658.3 349.4,657.3 349.4,657.1 349.4,655.9 349.4,655.8 349.5,654.4 349.5,654.3 349.7,652.9 349.8,652.8 350.1,651.6 350.1,651.4 350.5,650.4 350.5,650.3 350.6,650.2 350.7,650.1 351.2,649.4 351.3,649.3 351.4,649.2 351.5,649.1 352.2,648.6 352.3,648.5 352.4,648.4 353.1,648.1 353.2,648 353.9,647.7 354.5,647.4 355,647 355.6,646.3 356.3,645.6 356.9,644.8 357.4,644 357.8,643.2 358,642.3 358.1,641.3 358.2,640.2 358.1,639 357.9,637.8 357.6,636.5 357.1,635.2 356.5,633.8 355.7,632.2 354.7,630.6 353.7,629.1 352.6,627.8 351.5,626.8 350.3,626 349,625.3 347.5,624.8 346.1,624.4 344.7,624.2 343.5,624.1 342.6,624.2 341.8,624.5 341,625 340.1,625.5 339.2,626.2 339.2,626.2 338.5,626.7 338.3,627.1 338.2,627.9 338.1,629.1 338,629.3 338,629.4 338,629.5 337.9,629.6 337.4,630.6 337.4,630.7 337.3,630.8 337.2,630.9 337.1,631 337,631.1 336.9,631.1 336.8,631.2 336.7,631.3 336.6,631.3 335.3,631.6 335.2,631.7 335.1,631.7 334.9,631.7 334.8,631.7 334.6,631.6 332.3,631.1 332.1,631 332,631 328,629.2 327.9,629.1 322.4,626.3 322.4,626.3 316.2,622.8 316.1,622.8 309.9,619.1 309.8,619.1 304.2,615.7 304.2,615.7 299.9,613 299.9,612.9 297.2,611 297.1,610.9 295.4,609.3 295.3,609.2 295.2,609.2 294.2,607.9 294.1,607.8 294,607.7 293.3,606.5 293.3,606.4 292.6,605.1 291.6,603.6 290.3,601.5 290.3,601.5 288.9,599.2 288.9,599.1 287.6,596.7 286.3,594.4 285,592.4 283.8,590.9 282.6,589.8 281.4,588.9 280.2,588.3 279,587.9 277.8,587.5 276.6,587.3 275.6,587.1 274.7,587.1 273.8,587.2 273,587.3 272.4,587.6 271.8,588 271.2,588.5 270.7,589.2 270.2,590 269.8,590.9 269.5,591.9 269.3,593.1" fill="none" stroke="#000" stroke-width="0.9"/>
<ellipse cx="278.9" cy="599.9" rx="3.9" ry="5.2" transform="rotate(-25 278.9 599.9)" fill="#fff" stroke="#000" stroke-width="1.3" />
<ellipse cx="279.3" cy="600.2" rx="2.8" ry="3.9" transform="rotate(-25 279.3 600.2)" fill="none" stroke="#000" stroke-width="0.8" />
<ellipse cx="346.5" cy="636.6" rx="4.1" ry="5.3" transform="rotate(-25 346.5 636.6)" fill="#fff" stroke="#000" stroke-width="1.3" />
<ellipse cx="346.9" cy="636.9" rx="3" ry="4" transform="rotate(-25 346.9 636.9)" fill="none" stroke="#000" stroke-width="0.8" />
<ellipse cx="345.5" cy="725.1" rx="4.1" ry="5.3" transform="rotate(-25 345.5 725.1)" fill="#fff" stroke="#000" stroke-width="1.3" />
<ellipse cx="345.9" cy="725.4" rx="3" ry="4" transform="rotate(-25 345.9 725.4)" fill="none" stroke="#000" stroke-width="0.8" />
<ellipse cx="277.9" cy="682.4" rx="3.9" ry="5.4" transform="rotate(-25 277.9 682.4)" fill="#fff" stroke="#000" stroke-width="1.3" />
<ellipse cx="278.3" cy="682.7" rx="2.8" ry="4.1" transform="rotate(-25 278.3 682.7)" fill="none" stroke="#000" stroke-width="0.8" />
<ellipse cx="293.8" cy="682.4" rx="7.8" ry="10.3" transform="rotate(-20 293.8 682.4)" fill="#fff" stroke="#000" stroke-width="1.3" />
<ellipse cx="294.3" cy="682.8" rx="6.6" ry="9" transform="rotate(-20 294.3 682.8)" fill="none" stroke="#000" stroke-width="0.8" />
<path d="M294.8,624.7 C298,622.1 318.8,638.3 322.6,640.6 C326.4,642.9 326.2,642.8 327,644 C327.8,645.2 329.3,643.8 329.6,650.6 C329.9,657.4 330.4,696.6 329.6,702.3 C328.8,708 324.2,700.4 322.6,699.3 C321,698.2 316.9,694 316,693 C315.1,692 315,691.7 314.7,690.3 C314.4,688.9 314.1,682.7 313.7,681 C313.3,679.3 311.6,676.8 311,676 C310.4,675.2 310.5,675.5 308.7,674.4 C306.9,673.3 297.4,667.9 295.8,666.5 C294.2,665.1 294.9,667.4 294.8,662.5 C294.7,657.6 291.6,627.3 294.8,624.7Z" fill="none" stroke="#000" stroke-width="1.2"/>
<polygon points="295.7,626.1 294.1,631.4 294.3,642.3 295.4,654 295.4,654.1 296.1,662.4 296.1,662.5 296,665.2 296.3,665.3 296.4,665.4 296.5,665.4 299.1,667.3 302.8,669.5 306.6,671.7 306.6,671.7 309.4,673.3 310.6,674 311,674.2 311.1,674.2 311.2,674.3 311.3,674.4 311.5,674.5 311.5,674.6 311.6,674.7 311.7,674.7 312,675.2 312.7,676.1 312.8,676.2 313.5,677.3 313.6,677.4 314.3,678.8 314.3,678.9 314.4,678.9 314.9,680.6 315,680.7 315,680.8 315.3,683 315.4,683.1 315.6,685.7 315.6,685.7 315.8,688.2 316,690.1 316.2,691.1 316.2,691.3 316.3,691.4 317,692.1 317,692.1 318.2,693.5 319.9,695.2 321.6,696.9 323.4,698.3 323.5,698.4 323.6,698.5 325.5,700.7 325.5,700.8 327.4,703.4 327.7,703.6 328.3,702 328.9,692.1 328.9,677.1 328.6,661.7 328.3,650.7 327.9,646 327.7,645.7 327.7,645.7 327.6,645.6 327.4,645.6 327.3,645.6 326.5,645.2 326.4,645.1 326.3,645.1 326.2,645 326.1,644.9 326,644.8 325.9,644.7 325.9,644.6 325.4,643.9 325.4,643.8 324.7,643.4 321.9,641.7 321.8,641.6 315.9,637.3 315.9,637.3 307.7,631.2 299.9,626.5 295.7,626.1" fill="none" stroke="#000" stroke-width="0.8"/>
<line x1="359.1" y1="668.2" x2="359.1" y2="700.5" stroke="#000" stroke-width="1.1" />
<polygon points="369.1,687.3 380,680.9 380.6,682.6 369.7,689" fill="none" stroke="#000" stroke-width="1.0" stroke-linejoin="round" />
<path d="M364.1,702.7 L366.8,703 L367,714.3 M375,664.5 L377.5,663.5 M353,650 L352.3,658 L355,661" fill="none" stroke="#000" stroke-width="1.0" stroke-linejoin="round" stroke-linecap="round" />
<ellipse cx="517.3" cy="696.8" rx="35.5" ry="53.5" transform="rotate(29 517.3 696.8)" fill="#fff" stroke="#000" stroke-width="1.1" stroke-dasharray="30 2.2 1.6 2.2"/>
<path d="M513,655 C514.5,654.1 518.7,650.8 522,649.5 C525.3,648.2 529.7,647.4 533,647.5 C536.3,647.6 540.5,649.6 542,650" fill="none" stroke="#000" stroke-width="1.0" stroke-linejoin="round" stroke-linecap="round"/>
<polygon points="475.4,718.8 477.3,722 483.8,720 481.8,716.7" fill="#fff" stroke="#000" stroke-width="1.2" stroke-linejoin="round" />
<line x1="476.4" y1="718.1" x2="478.3" y2="721.4" stroke="#000" stroke-width="0.9" />
<polygon points="475,712.7 476.5,716.2 483.2,714.9 481.7,711.5" fill="#fff" stroke="#000" stroke-width="1.2" stroke-linejoin="round" />
<line x1="476.1" y1="712.2" x2="477.6" y2="715.7" stroke="#000" stroke-width="0.9" />
<polygon points="475.3,706.3 476.4,709.9 483.2,709.6 482.1,706" fill="#fff" stroke="#000" stroke-width="1.2" stroke-linejoin="round" />
<line x1="476.5" y1="705.9" x2="477.6" y2="709.6" stroke="#000" stroke-width="0.9" />
<polygon points="476.5,699.7 477,703.4 483.7,704.1 483.2,700.4" fill="#fff" stroke="#000" stroke-width="1.2" stroke-linejoin="round" />
<line x1="477.7" y1="699.5" x2="478.2" y2="703.3" stroke="#000" stroke-width="0.9" />
<polygon points="478.3,693 478.2,696.8 484.8,698.5 484.9,694.7" fill="#fff" stroke="#000" stroke-width="1.2" stroke-linejoin="round" />
<line x1="479.5" y1="693" x2="479.4" y2="696.8" stroke="#000" stroke-width="0.9" />
<polygon points="481,686.3 480.2,690 486.3,693 487.1,689.2" fill="#fff" stroke="#000" stroke-width="1.2" stroke-linejoin="round" />
<line x1="482.1" y1="686.5" x2="481.3" y2="690.3" stroke="#000" stroke-width="0.9" />
<polygon points="484.3,679.8 482.8,683.3 488.3,687.4 489.7,683.9" fill="#fff" stroke="#000" stroke-width="1.2" stroke-linejoin="round" />
<line x1="485.4" y1="680.3" x2="483.9" y2="683.8" stroke="#000" stroke-width="0.9" />
<polygon points="488.3,673.8 486.1,676.9 490.7,681.9 492.8,678.8" fill="#fff" stroke="#000" stroke-width="1.2" stroke-linejoin="round" />
<line x1="489.2" y1="674.4" x2="487.1" y2="677.6" stroke="#000" stroke-width="0.9" />
<polygon points="492.7,668.2 490,670.8 493.5,676.6 496.2,674" fill="#fff" stroke="#000" stroke-width="1.2" stroke-linejoin="round" />
<line x1="493.6" y1="669" x2="490.9" y2="671.7" stroke="#000" stroke-width="0.9" />
<polygon points="497.6,663.1 494.4,665.3 496.8,671.6 500,669.5" fill="#fff" stroke="#000" stroke-width="1.2" stroke-linejoin="round" />
<line x1="498.2" y1="664.1" x2="495.1" y2="666.3" stroke="#000" stroke-width="0.9" />
<polygon points="502.7,658.7 499.2,660.3 500.5,667 504,665.4" fill="#fff" stroke="#000" stroke-width="1.2" stroke-linejoin="round" />
<line x1="503.2" y1="659.8" x2="499.7" y2="661.4" stroke="#000" stroke-width="0.9" />
<polygon points="508,655 504.3,656 504.6,662.8 508.3,661.7" fill="#fff" stroke="#000" stroke-width="1.2" stroke-linejoin="round" />
<line x1="508.3" y1="656.1" x2="504.6" y2="657.2" stroke="#000" stroke-width="0.9" />
<polygon points="513.3,651.9 509.6,652.5 509,659.2 512.7,658.7" fill="#fff" stroke="#000" stroke-width="1.2" stroke-linejoin="round" />
<line x1="513.5" y1="653.1" x2="509.8" y2="653.7" stroke="#000" stroke-width="0.9" />
<path d="M487.3,730.8 " fill="none"/>
<polyline points="494.8,743.2 493.7,742.6 492.7,741.9 491.7,741.1 490.7,740.3 489.8,739.5 488.9,738.6 488,737.6 487.2,736.6 486.4,735.6 485.7,734.5 485,733.3 484.4,732.1 483.8,730.9 483.2,729.6 482.7,728.3 482.3,727 481.8,725.6 481.5,724.1 481.1,722.7" fill="none" stroke="#000" stroke-width="1.0" stroke-dasharray="22 2.2 1.6 2.2"/>
<ellipse cx="539.2" cy="686.5" rx="2.2" ry="3.6" transform="rotate(25 539.2 686.5)" fill="none" stroke="#000" stroke-width="1.3" />
<ellipse cx="497.3" cy="710" rx="2.2" ry="3.6" transform="rotate(25 497.3 710)" fill="none" stroke="#000" stroke-width="1.3" />
<ellipse cx="517.7" cy="726.4" rx="2.2" ry="3.6" transform="rotate(25 517.7 726.4)" fill="none" stroke="#000" stroke-width="1.3" />
<path d="M513.6,700.5 L513.6,687.5 L516.3,685 L517,688.5 L520.8,686.5 L521.5,681 L524.6,679.6 L524.6,689 Q527,695 523,700 Q518,703.5 513.6,700.5 Z" fill="#fff" stroke="#000" stroke-width="1.1" stroke-linejoin="round" stroke-linecap="round" />
<path d="M516.3,685 L516.5,699 M521.5,681 L521.8,687" fill="none" stroke="#000" stroke-width="0.9" stroke-linejoin="round" stroke-linecap="round" />
<line x1="519.8" y1="698.7" x2="559.7" y2="721.2" stroke="#000" stroke-width="1" />
<polygon points="584.8,728.8 585,728.9 585.2,729.1 585.4,729.4 585.5,729.7 585.6,730.1 585.6,730.5 585.6,731 585.6,731.5 585.5,732 585.4,732.5 585.2,733.1 585,733.6 584.8,734.2 584.6,734.8 584.3,735.4 584,735.9 583.6,736.5 583.3,737 582.9,737.5 582.6,737.9 582.2,738.3 581.8,738.7 581.4,739 581.1,739.3 580.7,739.5 580.4,739.6 580,739.7 579.7,739.7 579.4,739.7 579.2,739.6 562.2,731 562,730.9 561.8,730.7 561.6,730.4 561.5,730.1 561.4,729.7 561.4,729.3 561.4,728.8 561.4,728.3 561.5,727.8 561.6,727.3 561.8,726.7 562,726.2 562.2,725.6 562.4,725 562.7,724.4 563,723.9 563.4,723.3 563.7,722.8 564.1,722.3 564.4,721.9 564.8,721.5 565.2,721.1 565.6,720.8 565.9,720.5 566.3,720.3 566.6,720.2 567,720.1 567.3,720.1 567.6,720.1 567.8,720.2" fill="#fff" stroke="#000" stroke-width="1.1" stroke-linejoin="round" />
<polyline points="564.9,732.3 564.6,731.8 564.5,731.1 564.5,730.2 564.6,729.2 564.9,728.2 565.3,727.1 565.8,726 566.4,724.9 567.1,724 567.8,723.1 568.5,722.5 569.2,722 569.9,721.7 570.5,721.6" fill="none" stroke="#000" stroke-width="1.1" stroke-linejoin="round" />
<polyline points="568,733.9 567.7,733.3 567.6,732.6 567.6,731.8 567.7,730.8 568,729.7 568.4,728.6 568.9,727.5 569.5,726.5 570.2,725.5 570.9,724.7 571.6,724 572.3,723.5 573,723.3 573.6,723.2" fill="none" stroke="#000" stroke-width="1.1" stroke-linejoin="round" />
<polyline points="571.1,735.4 570.8,734.9 570.7,734.2 570.7,733.3 570.8,732.4 571.1,731.3 571.5,730.2 572,729.1 572.6,728.1 573.3,727.1 574,726.3 574.7,725.6 575.4,725.1 576.1,724.8 576.6,724.8" fill="none" stroke="#000" stroke-width="1.1" stroke-linejoin="round" />
<polyline points="574.2,737 573.9,736.5 573.8,735.8 573.8,734.9 573.9,733.9 574.2,732.9 574.6,731.8 575.1,730.7 575.7,729.6 576.4,728.7 577.1,727.8 577.8,727.2 578.5,726.7 579.1,726.4 579.7,726.3" fill="none" stroke="#000" stroke-width="1.1" stroke-linejoin="round" />
<polyline points="577.3,738.5 577,738 576.9,737.3 576.9,736.5 577,735.5 577.3,734.4 577.7,733.3 578.2,732.2 578.8,731.2 579.4,730.2 580.2,729.4 580.9,728.7 581.6,728.2 582.2,727.9 582.8,727.9" fill="none" stroke="#000" stroke-width="1.1" stroke-linejoin="round" />
<polygon points="595.5,726.6 596.3,727.1 596.9,727.7 597.5,728.4 597.9,729.2 598.3,730.2 598.6,731.2 598.7,732.4 598.8,733.6 598.8,734.9 598.6,736.2 598.3,737.5 598,738.9 597.5,740.3 597,741.7 596.3,743 595.6,744.3 594.8,745.5 593.9,746.7 593,747.8 592.1,748.8 591.1,749.7 590.1,750.5 589,751.1 588,751.6 587,752 586,752.3 585,752.4 584.1,752.3 583.3,752.1 582.5,751.8 579,749.6 578.2,749.1 577.6,748.5 577,747.8 576.6,747 576.2,746 575.9,745 575.8,743.8 575.7,742.6 575.7,741.3 575.9,740 576.2,738.7 576.5,737.3 577,735.9 577.5,734.5 578.2,733.2 578.9,731.9 579.7,730.7 580.6,729.5 581.5,728.4 582.4,727.4 583.4,726.5 584.4,725.7 585.5,725.1 586.5,724.6 587.5,724.2 588.5,723.9 589.5,723.8 590.4,723.9 591.2,724.1 592,724.4" fill="#fff" stroke="#000" stroke-width="1.3" stroke-linejoin="round" />
<polygon points="596.3,743 595.6,744.3 594.8,745.5 593.9,746.7 593,747.8 592.1,748.8 591.1,749.7 590.1,750.5 589,751.1 588,751.6 587,752 586,752.3 585,752.4 584.1,752.3 583.3,752.1 582.5,751.8 581.7,751.3 581.1,750.7 580.5,750 580.1,749.2 579.7,748.2 579.4,747.2 579.3,746 579.2,744.8 579.2,743.5 579.4,742.2 579.7,740.9 580,739.5 580.5,738.1 581,736.7 581.7,735.4 582.4,734.1 583.2,732.9 584.1,731.7 585,730.6 585.9,729.6 586.9,728.7 587.9,727.9 589,727.3 590,726.8 591,726.4 592,726.1 593,726 593.9,726.1 594.7,726.3 595.5,726.6 596.3,727.1 596.9,727.7 597.5,728.4 597.9,729.2 598.3,730.2 598.6,731.2 598.7,732.4 598.8,733.6 598.8,734.9 598.6,736.2 598.3,737.5 598,738.9 597.5,740.3 597,741.7 596.3,743" fill="none" stroke="#000" stroke-width="1.3" stroke-linejoin="round" />
<polygon points="595.6,742.6 594.6,744.4 593.4,746 592.2,747.4 590.9,748.6 589.5,749.7 588.1,750.4 586.7,750.9 585.4,751.1 584.2,751 583.1,750.6 582.2,749.9 581.4,749 580.8,747.8 580.4,746.4 580.2,744.8 580.2,743.1 580.5,741.3 580.9,739.5 581.6,737.6 582.4,735.8 583.4,734 584.6,732.4 585.8,731 587.1,729.8 588.5,728.7 589.9,728 591.3,727.5 592.6,727.3 593.8,727.4 594.9,727.8 595.8,728.5 596.6,729.4 597.2,730.6 597.6,732 597.8,733.6 597.8,735.3 597.5,737.1 597.1,738.9 596.4,740.8 595.6,742.6" fill="none" stroke="#000" stroke-width="1.0" stroke-linejoin="round" />
<polygon points="602.1,733.7 602.7,734.1 603.2,734.6 603.7,735.2 604.1,735.9 604.4,736.6 604.7,737.4 604.8,738.3 604.9,739.3 604.9,740.3 604.8,741.3 604.6,742.4 604.3,743.5 604,744.5 603.6,745.6 603.1,746.6 602.5,747.6 601.9,748.6 601.2,749.5 600.5,750.3 599.7,751.1 598.9,751.8 598.1,752.4 597.3,752.9 596.5,753.2 595.6,753.5 594.8,753.7 594.1,753.8 593.3,753.7 592.6,753.5 591.9,753.3 584.9,749.3 584.3,748.9 583.8,748.4 583.3,747.8 582.9,747.1 582.6,746.4 582.3,745.6 582.2,744.7 582.1,743.7 582.1,742.7 582.2,741.7 582.4,740.6 582.7,739.5 583,738.5 583.4,737.4 583.9,736.4 584.5,735.4 585.1,734.4 585.8,733.5 586.5,732.7 587.3,731.9 588.1,731.2 588.9,730.6 589.7,730.1 590.5,729.8 591.4,729.5 592.2,729.3 592.9,729.2 593.7,729.3 594.4,729.5 595.1,729.7" fill="#fff" stroke="#000" stroke-width="1.3" stroke-linejoin="round" />
<polygon points="603.1,746.6 602.5,747.6 601.9,748.6 601.2,749.5 600.5,750.3 599.7,751.1 598.9,751.8 598.1,752.4 597.3,752.9 596.5,753.2 595.6,753.5 594.8,753.7 594.1,753.8 593.3,753.7 592.6,753.5 591.9,753.3 591.3,752.9 590.8,752.4 590.3,751.8 589.9,751.1 589.6,750.4 589.3,749.6 589.2,748.7 589.1,747.7 589.1,746.7 589.2,745.7 589.4,744.6 589.7,743.5 590,742.5 590.4,741.4 590.9,740.4 591.5,739.4 592.1,738.4 592.8,737.5 593.5,736.7 594.3,735.9 595.1,735.2 595.9,734.6 596.7,734.1 597.5,733.8 598.4,733.5 599.2,733.3 599.9,733.2 600.7,733.3 601.4,733.5 602.1,733.7 602.7,734.1 603.2,734.6 603.7,735.2 604.1,735.9 604.4,736.6 604.7,737.4 604.8,738.3 604.9,739.3 604.9,740.3 604.8,741.3 604.6,742.4 604.3,743.5 604,744.5 603.6,745.6 603.1,746.6" fill="none" stroke="#000" stroke-width="1.3" stroke-linejoin="round" />
<line x1="582.6" y1="746.4" x2="589.6" y2="750.4" stroke="#000" stroke-width="1.1" />
<line x1="583.9" y1="736.4" x2="590.9" y2="740.4" stroke="#000" stroke-width="1.1" />
<line x1="591.4" y1="729.5" x2="598.4" y2="733.5" stroke="#000" stroke-width="1.1" />
<ellipse cx="597" cy="743.5" rx="6.6" ry="11" transform="rotate(27.4 597 743.5)" fill="none" stroke="#000" stroke-width="0" />
<polygon points="261.5,799.7 275.2,778.4 278.3,780.1 278.9,782.3 299.3,771 302.7,773.2 302.7,790 278.3,803.6 278.3,809.9" fill="#fff" stroke="#000" stroke-width="1.3" stroke-linejoin="round" />
<path d="M261.5,799.7 L265.2,801.4 L277.7,782 M265.2,801.4 L278.3,809.9 M278.9,782.3 L278.9,786 L301,774.1 L302.7,773.2 M278.9,786 L278.3,803.6" fill="none" stroke="#000" stroke-width="1.0" stroke-linejoin="round" stroke-linecap="round" />
<text x="0" y="0" font-size="14.5" font-weight="bold" textLength="21.5" lengthAdjust="spacingAndGlyphs" stroke="#000" stroke-width="0.3" transform="translate(279.2,801.6) skewY(-29) skewX(-6)">FWD</text>
<line x1="535.5" y1="75" x2="576" y2="102" stroke="#000" stroke-width="1.15" />
<line x1="626" y1="102.7" x2="641" y2="105.7" stroke="#000" stroke-width="1.15" />
<line x1="660" y1="111.4" x2="674" y2="113.6" stroke="#000" stroke-width="1.15" />
<line x1="674" y1="113.6" x2="674" y2="143" stroke="#000" stroke-width="1.15" />
<line x1="674" y1="128.4" x2="682" y2="128.4" stroke="#000" stroke-width="1.15" />
<line x1="674" y1="142.5" x2="652" y2="154.5" stroke="#000" stroke-width="1.15" />
<line x1="753.4" y1="177" x2="738.1" y2="204" stroke="#000" stroke-width="1.15" />
<line x1="784.9" y1="201.3" x2="779.5" y2="231.9" stroke="#000" stroke-width="1.15" />
<line x1="534" y1="203.6" x2="591.3" y2="225.2" stroke="#000" stroke-width="1.15" />
<line x1="298.2" y1="248.4" x2="275.5" y2="301" stroke="#000" stroke-width="1.15" />
<line x1="320.9" y1="302.4" x2="302.4" y2="335" stroke="#000" stroke-width="1.15" />
<line x1="329.6" y1="286.6" x2="335.2" y2="277.8" stroke="#000" stroke-width="1.15" />
<line x1="335.2" y1="277.8" x2="473.6" y2="357.8" stroke="#000" stroke-width="1.15" />
<line x1="473.6" y1="357.8" x2="470.4" y2="362.6" stroke="#000" stroke-width="1.15" />
<line x1="408.8" y1="321" x2="416.8" y2="306.6" stroke="#000" stroke-width="1.15" />
<line x1="382.1" y1="305.8" x2="357.1" y2="348.2" stroke="#000" stroke-width="1.15" />
<line x1="461.6" y1="378" x2="453" y2="394.7" stroke="#000" stroke-width="1.15" />
<line x1="506.3" y1="366.7" x2="530" y2="400.7" stroke="#000" stroke-width="1.15" />
<line x1="713.5" y1="553.4" x2="721.7" y2="515.5" stroke="#000" stroke-width="1.15" />
<line x1="768.7" y1="552.4" x2="782" y2="518.6" stroke="#000" stroke-width="1.15" />
<line x1="606" y1="611.7" x2="585.2" y2="566.2" stroke="#000" stroke-width="1.15" />
<line x1="397.2" y1="751" x2="374.2" y2="714.2" stroke="#000" stroke-width="1.15" />
<line x1="476.8" y1="777.5" x2="492.2" y2="745.8" stroke="#000" stroke-width="1.15" />
<line x1="557.6" y1="790.8" x2="580.1" y2="753" stroke="#000" stroke-width="1.15" />
<text x="518.7" y="73.8" font-size="12.4" textLength="16.4" lengthAdjust="spacingAndGlyphs" stroke="#000" stroke-width="0.15">16</text>
<text x="641.9" y="111.8" font-size="12.4" textLength="15.2" lengthAdjust="spacingAndGlyphs" stroke="#000" stroke-width="0.15">14</text>
<text x="684.4" y="131.8" font-size="12.4" textLength="15.7" lengthAdjust="spacingAndGlyphs" stroke="#000" stroke-width="0.15">13</text>
<text x="747.9" y="174" font-size="12.4" textLength="15.7" lengthAdjust="spacingAndGlyphs" stroke="#000" stroke-width="0.15">12</text>
<text x="781.2" y="196.5" font-size="12.4" textLength="14.6" lengthAdjust="spacingAndGlyphs" stroke="#000" stroke-width="0.15">17</text>
<text x="516.9" y="205" font-size="12.4" textLength="15.7" lengthAdjust="spacingAndGlyphs" stroke="#000" stroke-width="0.15">15</text>
<text x="296.6" y="246.6" font-size="12.4" textLength="7.5" lengthAdjust="spacingAndGlyphs" stroke="#000" stroke-width="0.15">4</text>
<text x="320.8" y="298.6" font-size="12.4" textLength="8.8" lengthAdjust="spacingAndGlyphs" stroke="#000" stroke-width="0.15">3</text>
<text x="416.4" y="303.4" font-size="12.4" textLength="5.7" lengthAdjust="spacingAndGlyphs" stroke="#000" stroke-width="0.15">1</text>
<text x="461.3" y="376.3" font-size="12.4" textLength="9.3" lengthAdjust="spacingAndGlyphs" stroke="#000" stroke-width="0.15">2</text>
<text x="498.4" y="364" font-size="12.4" textLength="8.2" lengthAdjust="spacingAndGlyphs" stroke="#000" stroke-width="0.15">8</text>
<text x="704.2" y="563.2" font-size="12.4" textLength="15.6" lengthAdjust="spacingAndGlyphs" stroke="#000" stroke-width="0.15">10</text>
<text x="760.4" y="563.2" font-size="12.4" textLength="13.5" lengthAdjust="spacingAndGlyphs" stroke="#000" stroke-width="0.15">11</text>
<text x="605.9" y="625.8" font-size="12.4" textLength="9.2" lengthAdjust="spacingAndGlyphs" stroke="#000" stroke-width="0.15">9</text>
<text x="395.4" y="764.4" font-size="12.4" textLength="9" lengthAdjust="spacingAndGlyphs" stroke="#000" stroke-width="0.15">5</text>
<text x="472.6" y="787.4" font-size="12.4" textLength="7.5" lengthAdjust="spacingAndGlyphs" stroke="#000" stroke-width="0.15">7</text>
<text x="551.4" y="799.6" font-size="12.4" textLength="7.4" lengthAdjust="spacingAndGlyphs" stroke="#000" stroke-width="0.15">6</text>
<text x="239.7" y="828.6" font-size="11.6" textLength="92.9" lengthAdjust="spacingAndGlyphs" stroke="#000" stroke-width="0">54S1431-L040</text>
</svg>
</body></html>
